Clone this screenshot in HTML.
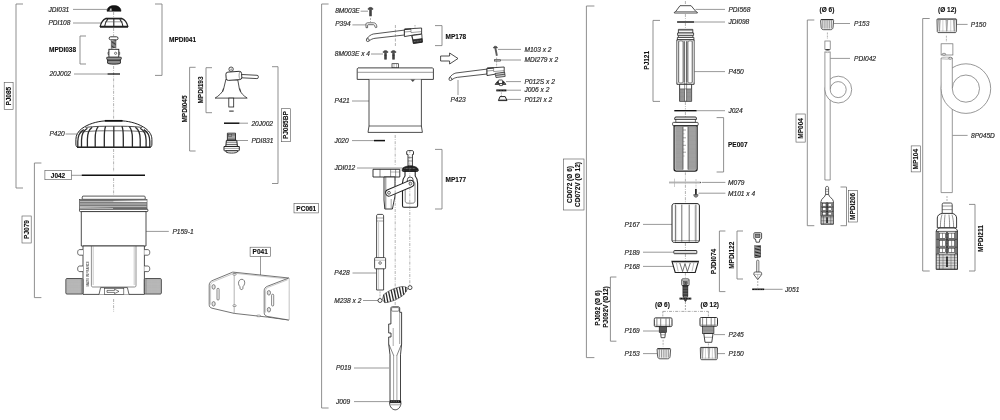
<!DOCTYPE html>
<html><head><meta charset="utf-8"><title>Exploded view</title>
<style>
html,body{margin:0;padding:0;background:#fff;}
body{width:1000px;height:420px;overflow:hidden;}
svg{display:block;font-family:"Liberation Sans",sans-serif;opacity:0.999;will-change:transform;}
</style></head><body>
<svg width="1000" height="420" viewBox="0 0 1000 420">
<rect width="1000" height="420" fill="#fff"/>
<path d="M23,4 H16 V188 H23" stroke="#7c7c7c" stroke-width="0.85" fill="none" />
<path d="M155,4 H162 V75.4 H155" stroke="#7c7c7c" stroke-width="0.85" fill="none" />
<path d="M86,36 H80 V64 H86" stroke="#7c7c7c" stroke-width="0.85" fill="none" />
<path d="M41.4,163 H34.4 V297.6 H41.4" stroke="#7c7c7c" stroke-width="0.85" fill="none" />
<line x1="113.6" y1="12" x2="113.6" y2="17" stroke="#666" stroke-width="0.5" stroke-dasharray="3 1.2 0.8 1.2"/>
<line x1="113.6" y1="28" x2="113.6" y2="36" stroke="#666" stroke-width="0.5" stroke-dasharray="3 1.2 0.8 1.2"/>
<line x1="113.6" y1="66" x2="113.6" y2="119" stroke="#666" stroke-width="0.5" stroke-dasharray="3 1.2 0.8 1.2"/>
<line x1="113.6" y1="149" x2="113.6" y2="172" stroke="#666" stroke-width="0.5" stroke-dasharray="3 1.2 0.8 1.2"/>
<line x1="113.6" y1="178" x2="113.6" y2="195" stroke="#666" stroke-width="0.5" stroke-dasharray="3 1.2 0.8 1.2"/>
<line x1="113.6" y1="299" x2="113.6" y2="312" stroke="#666" stroke-width="0.5" stroke-dasharray="3 1.2 0.8 1.2"/>
<text x="48.4" y="11.74" font-size="6.6" font-style="italic" fill="#2b2b2b" stroke="#2b2b2b" stroke-width="0.18" text-anchor="start">JDI031</text>
<line x1="73" y1="9.4" x2="107" y2="9.4" stroke="#444" stroke-width="0.55" />
<text x="48.4" y="25.34" font-size="6.6" font-style="italic" fill="#2b2b2b" stroke="#2b2b2b" stroke-width="0.18" text-anchor="start">PDI108</text>
<line x1="73" y1="23" x2="101" y2="23" stroke="#444" stroke-width="0.55" />
<text x="49" y="51.74" font-size="6.5" font-weight="bold" fill="#111" stroke="#111" stroke-width="0.12" text-anchor="start">MPDI038</text>
<text x="49.4" y="76.34" font-size="6.6" font-style="italic" fill="#2b2b2b" stroke="#2b2b2b" stroke-width="0.18" text-anchor="start">20J002</text>
<line x1="74" y1="74" x2="107" y2="74" stroke="#444" stroke-width="0.55" />
<text x="169" y="41.74" font-size="6.5" font-weight="bold" fill="#111" stroke="#111" stroke-width="0.12" text-anchor="start">MPDI041</text>
<text x="49.4" y="136.34" font-size="6.6" font-style="italic" fill="#2b2b2b" stroke="#2b2b2b" stroke-width="0.18" text-anchor="start">P420</text>
<line x1="65.6" y1="134" x2="77" y2="134" stroke="#444" stroke-width="0.55" />
<text x="172.4" y="233.74" font-size="6.6" font-style="italic" fill="#2b2b2b" stroke="#2b2b2b" stroke-width="0.18" text-anchor="start">P159-1</text>
<line x1="146.2" y1="231.4" x2="168.8" y2="231.4" stroke="#444" stroke-width="0.55" />
<rect x="44.9" y="170.3" width="26.7" height="9.4" rx="0" stroke="#555" stroke-width="0.6" fill="#fff" />
<text x="58" y="177.74" font-size="6.5" font-weight="bold" fill="#111" stroke="#111" stroke-width="0.12" text-anchor="middle">J042</text>
<line x1="71.6" y1="175.3" x2="82" y2="175.3" stroke="#444" stroke-width="0.55" />
<rect x="4.2" y="82.5" width="8.9" height="26.8" rx="0" stroke="#555" stroke-width="0.6" fill="#fff" />
<text transform="translate(11.14,96.2) rotate(-90)" font-size="6.5" font-weight="bold" fill="#111" stroke="#111" stroke-width="0.12" text-anchor="middle">PJ085</text>
<rect x="22" y="216" width="9.2" height="27" rx="0" stroke="#555" stroke-width="0.6" fill="#fff" />
<text transform="translate(28.94,229.5) rotate(-90)" font-size="6.5" font-weight="bold" fill="#111" stroke="#111" stroke-width="0.12" text-anchor="middle">PJ079</text>
<path d="M107,11.3 C107,7.6 110,5.6 114,5.6 C118,5.6 121,7.6 121,11.3 Z" stroke="#111" stroke-width="0.5" fill="#151515" />
<path d="M109.6,10.4 L111,8.2 L111.6,10.4 Z" stroke="#eee" stroke-width="0.3" fill="#f2f2f2" />
<path d="M106,18.4 H121.6 C125,19.8 127,22.6 127.8,26.4 H100.2 C101,22.6 103,19.8 106,18.4 Z" stroke="#222" stroke-width="1.2" fill="#fff" />
<path d="M100,27 H128" stroke="#222" stroke-width="1.5" fill="none" />
<path d="M105.6,18.7 H122" stroke="#222" stroke-width="1.5" fill="none" />
<path d="M107.8,19.2 C105.8,21.4 105,24 104.6,26.6" stroke="#222" stroke-width="1.1" fill="none" />
<path d="M119.8,19.2 C121.8,21.4 122.6,24 123,26.6" stroke="#222" stroke-width="1.1" fill="none" />
<path d="M113.8,18.6 V26.6" stroke="#222" stroke-width="1.1" fill="none" />
<path d="M104.8,21.8 H122.8" stroke="#555" stroke-width="0.6" fill="none" />
<rect x="109.2" y="36.8" width="8.8" height="3" rx="1.4" stroke="#222" stroke-width="0.9" fill="#fff" />
<path d="M111.3,41.5 L115.9,40.6" stroke="#222" stroke-width="0.9" fill="none" />
<path d="M111.3,42.8 L115.9,41.9" stroke="#222" stroke-width="0.9" fill="none" />
<path d="M111.3,44.1 L115.9,43.2" stroke="#222" stroke-width="0.9" fill="none" />
<path d="M111.3,45.4 L115.9,44.5" stroke="#222" stroke-width="0.9" fill="none" />
<path d="M111.3,46.7 L115.9,45.800000000000004" stroke="#222" stroke-width="0.9" fill="none" />
<path d="M111.3,48.0 L115.9,47.1" stroke="#222" stroke-width="0.9" fill="none" />
<line x1="111.3" y1="40" x2="111.3" y2="48.6" stroke="#333" stroke-width="0.5" />
<line x1="115.9" y1="40" x2="115.9" y2="48.6" stroke="#333" stroke-width="0.5" />
<rect x="108.9" y="49.3" width="9.9" height="7.9" rx="0" stroke="#222" stroke-width="0.9" fill="#fff" />
<circle cx="115.6" cy="53.3" r="1.1" stroke="#222" stroke-width="0.6" fill="#fff"/>
<path d="M108.9,52.2 H108 V54.4 H108.9 M118.8,52.2 H119.7 V54.4 H118.8" stroke="#222" stroke-width="0.6" fill="none" />
<path d="M106.8,57.3 H121.2 V59.2 H106.8 Z" stroke="#222" stroke-width="0.9" fill="#fff" />
<path d="M107.6,59.2 H120.4 V63 C119.6,64.6 108.4,64.6 107.6,63 Z" stroke="#222" stroke-width="0.9" fill="#fff" />
<line x1="107.5" y1="60.5" x2="120.5" y2="60.5" stroke="#222" stroke-width="0.85" />
<line x1="107.5" y1="61.9" x2="120.5" y2="61.9" stroke="#222" stroke-width="0.85" />
<line x1="107.5" y1="63.2" x2="120.5" y2="63.2" stroke="#222" stroke-width="0.85" />
<line x1="107.4" y1="74" x2="120" y2="74" stroke="#111" stroke-width="1.3" />
<path d="M78,147.4 C76.4,147 75.9,146 75.9,144 V139.5 C75.9,135 78,131.6 81.8,128.6 C88,124 97,121.4 105,120.9 H122.6 C130.6,121.4 139.6,124 145.8,128.6 C149.6,131.6 151.9,135 151.9,139.5 V144 C151.9,146 151.4,147 149.8,147.4 Z" stroke="#222" stroke-width="1.0" fill="#fff" />
<path d="M104.8,120.8 H122.6" stroke="#111" stroke-width="1.7" fill="none" />
<path d="M77,147.3 H150.6" stroke="#222" stroke-width="1.4" fill="none" />
<path d="M85.4,127.4 C95,126.2 105,126.2 113.8,126.2 C122.6,126.2 132.6,126.2 142.2,127.4" stroke="#222" stroke-width="0.8" fill="none" />
<path d="M79.6,132.2 C92,130.6 104,130.8 113.8,130.8 C123.6,130.8 135.6,130.6 148,132.2" stroke="#333" stroke-width="0.7" fill="none" />
<path d="M113.8,126.2 C113.8,128.7 113.8,132.7 113.8,138.2 V147" stroke="#2a2a2a" stroke-width="1.3" fill="none" />
<path d="M105.6,126.3 C104.6,128.8 104.3,132.8 104.3,138.3 V147" stroke="#2a2a2a" stroke-width="1.3" fill="none" />
<path d="M122.0,126.3 C123.0,128.8 123.3,132.8 123.3,138.3 V147" stroke="#2a2a2a" stroke-width="1.3" fill="none" />
<path d="M98.2,126.6 C96.0,129.1 95.2,133.1 95.2,138.6 V147" stroke="#2a2a2a" stroke-width="1.3" fill="none" />
<path d="M129.4,126.6 C131.7,129.1 132.4,133.1 132.4,138.6 V147" stroke="#2a2a2a" stroke-width="1.3" fill="none" />
<path d="M92.2,127.2 C88.6,129.7 87.4,133.7 87.4,139.2 V147" stroke="#2a2a2a" stroke-width="1.3" fill="none" />
<path d="M135.4,127.2 C139.0,129.7 140.2,133.7 140.2,139.2 V147" stroke="#2a2a2a" stroke-width="1.3" fill="none" />
<path d="M87.4,128.2 C83.0,130.7 81.5,134.7 81.5,140.2 V147" stroke="#2a2a2a" stroke-width="1.3" fill="none" />
<path d="M140.2,128.2 C144.6,130.7 146.1,134.7 146.1,140.2 V147" stroke="#2a2a2a" stroke-width="1.3" fill="none" />
<path d="M83.8,129.6 C79.3,132.1 77.8,136.1 77.8,141.6 V147" stroke="#2a2a2a" stroke-width="1.3" fill="none" />
<path d="M143.8,129.6 C148.3,132.1 149.8,136.1 149.8,141.6 V147" stroke="#2a2a2a" stroke-width="1.3" fill="none" />
<line x1="81.8" y1="175.3" x2="145" y2="175.3" stroke="#111" stroke-width="1.6" />
<path d="M82.8,196.1 H144.6 L145.2,197 V199.3 H82.2 V197 Z" stroke="#222" stroke-width="0.75" fill="#fff" />
<rect x="79.6" y="199.3" width="67.4" height="9.9" rx="0" stroke="#333" stroke-width="0.6" fill="#d4d4d4" />
<line x1="79.8" y1="200.6" x2="146.8" y2="200.6" stroke="#444" stroke-width="0.75" />
<line x1="79.8" y1="202.3" x2="146.8" y2="202.3" stroke="#444" stroke-width="0.75" />
<line x1="79.8" y1="204" x2="146.8" y2="204" stroke="#444" stroke-width="0.75" />
<line x1="79.8" y1="205.7" x2="146.8" y2="205.7" stroke="#444" stroke-width="0.75" />
<line x1="79.8" y1="207.4" x2="146.8" y2="207.4" stroke="#444" stroke-width="0.75" />
<line x1="79.8" y1="208.8" x2="146.8" y2="208.8" stroke="#444" stroke-width="0.75" />
<path d="M113.4,200.9 L146.6,200.4 V202 L113.4,201.6 Z" stroke="#fff" stroke-width="0.1" fill="#fff" />
<path d="M80,207.6 L113,208.1 V208.7 L80,208.5 Z" stroke="#fff" stroke-width="0.1" fill="#fff" />
<rect x="79.5" y="209.2" width="68.4" height="2.4" rx="0.8" stroke="#222" stroke-width="0.8" fill="#fff" />
<path d="M81.3,211.6 H146 V246 H81.3 Z" stroke="#222" stroke-width="0.8" fill="#fff" />
<path d="M83,246 H144.4 V294.4 H83 Z" stroke="#222" stroke-width="0.8" fill="#fff" />
<path d="M91.4,246 V285.5 C91.4,286.6 92,287 93,287 H134.4 C135.4,287 136,286.6 136,285.5 V246" stroke="#444" stroke-width="0.6" fill="none" />
<path d="M93.2,246 V285" stroke="#777" stroke-width="0.4" fill="none" />
<path d="M134.2,246 V285" stroke="#777" stroke-width="0.4" fill="none" />
<path d="M83,249.6 H79.6 C77,249.6 77,255.2 79.6,255.2 H83" stroke="#222" stroke-width="0.7" fill="#fff" />
<path d="M144.4,249.6 H147.8 C150.4,249.6 150.4,255.2 147.8,255.2 H144.4" stroke="#222" stroke-width="0.7" fill="#fff" />
<path d="M83,266 H79.6 C77,266 77,271.6 79.6,271.6 H83" stroke="#222" stroke-width="0.7" fill="#fff" />
<path d="M144.4,266 H147.8 C150.4,266 150.4,271.6 147.8,271.6 H144.4" stroke="#222" stroke-width="0.7" fill="#fff" />
<defs><pattern id="hat" width="1.1" height="1.1" patternUnits="userSpaceOnUse"><rect width="1.1" height="1.1" fill="#9a9a9a"/><path d="M0,0.55H1.1" stroke="#666" stroke-width="0.5"/></pattern><pattern id="hat2" width="1" height="1.2" patternUnits="userSpaceOnUse"><rect width="1" height="1.2" fill="#bbb"/><path d="M0,0.6H1" stroke="#666" stroke-width="0.5"/></pattern></defs>
<rect x="65.9" y="278.6" width="17" height="15.4" rx="1" stroke="#333" stroke-width="0.9" fill="#cacaca" />
<rect x="144.3" y="278.6" width="17" height="15.4" rx="1" stroke="#333" stroke-width="0.9" fill="#cacaca" />
<line x1="67.44000000000001" y1="279.2" x2="67.44000000000001" y2="293.4" stroke="#9a9a9a" stroke-width="0.3" />
<line x1="145.64" y1="279.2" x2="145.64" y2="293.4" stroke="#9a9a9a" stroke-width="0.3" />
<line x1="68.48" y1="279.2" x2="68.48" y2="293.4" stroke="#9a9a9a" stroke-width="0.3" />
<line x1="146.68" y1="279.2" x2="146.68" y2="293.4" stroke="#9a9a9a" stroke-width="0.3" />
<line x1="69.52000000000001" y1="279.2" x2="69.52000000000001" y2="293.4" stroke="#9a9a9a" stroke-width="0.3" />
<line x1="147.72" y1="279.2" x2="147.72" y2="293.4" stroke="#9a9a9a" stroke-width="0.3" />
<line x1="70.56" y1="279.2" x2="70.56" y2="293.4" stroke="#9a9a9a" stroke-width="0.3" />
<line x1="148.76" y1="279.2" x2="148.76" y2="293.4" stroke="#9a9a9a" stroke-width="0.3" />
<line x1="71.60000000000001" y1="279.2" x2="71.60000000000001" y2="293.4" stroke="#9a9a9a" stroke-width="0.3" />
<line x1="149.79999999999998" y1="279.2" x2="149.79999999999998" y2="293.4" stroke="#9a9a9a" stroke-width="0.3" />
<line x1="72.64" y1="279.2" x2="72.64" y2="293.4" stroke="#9a9a9a" stroke-width="0.3" />
<line x1="150.84" y1="279.2" x2="150.84" y2="293.4" stroke="#9a9a9a" stroke-width="0.3" />
<line x1="73.68" y1="279.2" x2="73.68" y2="293.4" stroke="#9a9a9a" stroke-width="0.3" />
<line x1="151.88" y1="279.2" x2="151.88" y2="293.4" stroke="#9a9a9a" stroke-width="0.3" />
<line x1="74.72" y1="279.2" x2="74.72" y2="293.4" stroke="#9a9a9a" stroke-width="0.3" />
<line x1="152.92" y1="279.2" x2="152.92" y2="293.4" stroke="#9a9a9a" stroke-width="0.3" />
<line x1="75.76" y1="279.2" x2="75.76" y2="293.4" stroke="#9a9a9a" stroke-width="0.3" />
<line x1="153.95999999999998" y1="279.2" x2="153.95999999999998" y2="293.4" stroke="#9a9a9a" stroke-width="0.3" />
<line x1="76.80000000000001" y1="279.2" x2="76.80000000000001" y2="293.4" stroke="#9a9a9a" stroke-width="0.3" />
<line x1="155.0" y1="279.2" x2="155.0" y2="293.4" stroke="#9a9a9a" stroke-width="0.3" />
<line x1="77.84" y1="279.2" x2="77.84" y2="293.4" stroke="#9a9a9a" stroke-width="0.3" />
<line x1="156.04" y1="279.2" x2="156.04" y2="293.4" stroke="#9a9a9a" stroke-width="0.3" />
<line x1="78.88000000000001" y1="279.2" x2="78.88000000000001" y2="293.4" stroke="#9a9a9a" stroke-width="0.3" />
<line x1="157.07999999999998" y1="279.2" x2="157.07999999999998" y2="293.4" stroke="#9a9a9a" stroke-width="0.3" />
<line x1="79.92" y1="279.2" x2="79.92" y2="293.4" stroke="#9a9a9a" stroke-width="0.3" />
<line x1="158.12" y1="279.2" x2="158.12" y2="293.4" stroke="#9a9a9a" stroke-width="0.3" />
<line x1="80.96000000000001" y1="279.2" x2="80.96000000000001" y2="293.4" stroke="#9a9a9a" stroke-width="0.3" />
<line x1="159.16" y1="279.2" x2="159.16" y2="293.4" stroke="#9a9a9a" stroke-width="0.3" />
<line x1="82.0" y1="279.2" x2="82.0" y2="293.4" stroke="#9a9a9a" stroke-width="0.3" />
<line x1="160.2" y1="279.2" x2="160.2" y2="293.4" stroke="#9a9a9a" stroke-width="0.3" />
<path d="M99,294.4 L100.6,287.6 H127.4 L129,294.4" stroke="#222" stroke-width="0.7" fill="#fff" />
<rect x="104.4" y="288.4" width="19.4" height="6" rx="0" stroke="#333" stroke-width="0.6" fill="#fff" />
<path d="M107,290.4 H114.5 V289.2 L119,291.4 L114.5,293.6 V292.4 H107 Z" stroke="#222" stroke-width="0.6" fill="#fff" />
<text transform="translate(89,286.4) rotate(-90)" font-size="2.9" font-weight="bold" fill="#555">MADE IN FRANCE</text>
<line x1="81.4" y1="279" x2="81.4" y2="293.6" stroke="#555" stroke-width="0.5" />
<line x1="146" y1="279" x2="146" y2="293.6" stroke="#555" stroke-width="0.5" />
<line x1="66.4" y1="280.05" x2="82.6" y2="280.05" stroke="#a5a5a5" stroke-width="0.3" />
<line x1="144.6" y1="280.05" x2="160.8" y2="280.05" stroke="#a5a5a5" stroke-width="0.3" />
<line x1="66.4" y1="281.3" x2="82.6" y2="281.3" stroke="#a5a5a5" stroke-width="0.3" />
<line x1="144.6" y1="281.3" x2="160.8" y2="281.3" stroke="#a5a5a5" stroke-width="0.3" />
<line x1="66.4" y1="282.55" x2="82.6" y2="282.55" stroke="#a5a5a5" stroke-width="0.3" />
<line x1="144.6" y1="282.55" x2="160.8" y2="282.55" stroke="#a5a5a5" stroke-width="0.3" />
<line x1="66.4" y1="283.8" x2="82.6" y2="283.8" stroke="#a5a5a5" stroke-width="0.3" />
<line x1="144.6" y1="283.8" x2="160.8" y2="283.8" stroke="#a5a5a5" stroke-width="0.3" />
<line x1="66.4" y1="285.05" x2="82.6" y2="285.05" stroke="#a5a5a5" stroke-width="0.3" />
<line x1="144.6" y1="285.05" x2="160.8" y2="285.05" stroke="#a5a5a5" stroke-width="0.3" />
<line x1="66.4" y1="286.3" x2="82.6" y2="286.3" stroke="#a5a5a5" stroke-width="0.3" />
<line x1="144.6" y1="286.3" x2="160.8" y2="286.3" stroke="#a5a5a5" stroke-width="0.3" />
<line x1="66.4" y1="287.55" x2="82.6" y2="287.55" stroke="#a5a5a5" stroke-width="0.3" />
<line x1="144.6" y1="287.55" x2="160.8" y2="287.55" stroke="#a5a5a5" stroke-width="0.3" />
<line x1="66.4" y1="288.8" x2="82.6" y2="288.8" stroke="#a5a5a5" stroke-width="0.3" />
<line x1="144.6" y1="288.8" x2="160.8" y2="288.8" stroke="#a5a5a5" stroke-width="0.3" />
<line x1="66.4" y1="290.05" x2="82.6" y2="290.05" stroke="#a5a5a5" stroke-width="0.3" />
<line x1="144.6" y1="290.05" x2="160.8" y2="290.05" stroke="#a5a5a5" stroke-width="0.3" />
<line x1="66.4" y1="291.3" x2="82.6" y2="291.3" stroke="#a5a5a5" stroke-width="0.3" />
<line x1="144.6" y1="291.3" x2="160.8" y2="291.3" stroke="#a5a5a5" stroke-width="0.3" />
<line x1="66.4" y1="292.55" x2="82.6" y2="292.55" stroke="#a5a5a5" stroke-width="0.3" />
<line x1="144.6" y1="292.55" x2="160.8" y2="292.55" stroke="#a5a5a5" stroke-width="0.3" />
<path d="M195.6,67.3 H189.6 V151 H195.6" stroke="#7c7c7c" stroke-width="0.85" fill="none" />
<path d="M212,67.7 H206 V112.7 H212" stroke="#7c7c7c" stroke-width="0.85" fill="none" />
<path d="M272,66.7 H278 V183.5 H272" stroke="#7c7c7c" stroke-width="0.85" fill="none" />
<text transform="translate(186.54,109) rotate(-90)" font-size="6.5" font-weight="bold" fill="#111" stroke="#111" stroke-width="0.12" text-anchor="middle">MPDI045</text>
<text transform="translate(203.04,90) rotate(-90)" font-size="6.5" font-weight="bold" fill="#111" stroke="#111" stroke-width="0.12" text-anchor="middle">MPDI193</text>
<rect x="281.3" y="108.7" width="9.4" height="33" rx="0" stroke="#555" stroke-width="0.6" fill="#fff" />
<text transform="translate(288.34,125.2) rotate(-90)" font-size="6.5" font-weight="bold" fill="#111" stroke="#111" stroke-width="0.12" text-anchor="middle">PJ085BP</text>
<circle cx="231.1" cy="69.2" r="2.2" stroke="#222" stroke-width="0.8" fill="#fff"/>
<circle cx="231.3" cy="69.4" r="0.6" stroke="#222" stroke-width="0.4" fill="#fff"/>
<path d="M226,79 L223.6,89 C222.6,92.6 218.5,96 215.1,98.1 H247.2 C243.8,96 240.2,92.6 239.4,89 L237.8,80 Z" stroke="#222" stroke-width="0.8" fill="#fff" />
<path d="M223.4,88.4 L222.6,92 M239.8,88.4 L240.8,92" stroke="#222" stroke-width="0.7" fill="none" />
<g transform="rotate(3 242 76)"><rect x="240.6" y="74.5" width="17.8" height="3.3" rx="1.4" stroke="#222" stroke-width="0.8" fill="#fff"/></g>
<g transform="rotate(-4 234 75.8)"><rect x="226" y="71.7" width="15.7" height="8.3" rx="2.2" stroke="#222" stroke-width="0.9" fill="#fff"/></g>
<path d="M239.8,72 C238.8,73.6 238.8,77.8 240,79.2" stroke="#333" stroke-width="0.5" fill="none" />
<rect x="228.8" y="98.1" width="4.9" height="8.9" rx="0" stroke="#222" stroke-width="0.8" fill="#fff" />
<line x1="229.2" y1="111.1" x2="233.7" y2="111.1" stroke="#222" stroke-width="1.0" />
<line x1="224" y1="123.2" x2="239.5" y2="123.2" stroke="#111" stroke-width="1.5" />
<line x1="239.7" y1="123.2" x2="248" y2="123.2" stroke="#444" stroke-width="0.55" />
<text x="251.4" y="125.54" font-size="6.6" font-style="italic" fill="#2b2b2b" stroke="#2b2b2b" stroke-width="0.18" text-anchor="start">20J002</text>
<path d="M227.4,133.2 H235.5 V140.4 H227.4 Z" stroke="#222" stroke-width="0.9" fill="#fff" />
<line x1="227.4" y1="134.4" x2="235.5" y2="134.4" stroke="#333" stroke-width="0.7" />
<line x1="227.4" y1="135.7" x2="235.5" y2="135.7" stroke="#333" stroke-width="0.7" />
<line x1="227.4" y1="137" x2="235.5" y2="137" stroke="#333" stroke-width="0.7" />
<line x1="227.4" y1="138.3" x2="235.5" y2="138.3" stroke="#333" stroke-width="0.7" />
<line x1="227.4" y1="139.5" x2="235.5" y2="139.5" stroke="#333" stroke-width="0.7" />
<rect x="228.2" y="134.2" width="3.6" height="2.4" rx="0" stroke="#333" stroke-width="0.4" fill="#999" />
<path d="M226.4,140.4 H236.8 L237.4,146.4 H225.8 Z" stroke="#222" stroke-width="1.0" fill="#fff" />
<line x1="226.2" y1="142.2" x2="237" y2="142.2" stroke="#333" stroke-width="0.7" />
<line x1="226" y1="144.4" x2="237.2" y2="144.4" stroke="#333" stroke-width="0.8" />
<path d="M224,146.5 H239.3 V150.2 C239.3,150.6 239,150.8 238.6,150.8 H224.7 C224.3,150.8 224,150.6 224,150.2 Z" stroke="#222" stroke-width="1.0" fill="#fff" />
<line x1="224.4" y1="148.4" x2="239" y2="148.4" stroke="#444" stroke-width="0.5" />
<path d="M226,150.8 H237.4 V152 C235.6,153.4 227.8,153.4 226,152 Z" stroke="#222" stroke-width="0.9" fill="#fff" />
<line x1="236.4" y1="140.5" x2="248" y2="140.5" stroke="#444" stroke-width="0.55" />
<text x="251.4" y="142.84" font-size="6.6" font-style="italic" fill="#2b2b2b" stroke="#2b2b2b" stroke-width="0.18" text-anchor="start">PDI831</text>
<rect x="250.1" y="247.2" width="20.5" height="9.1" rx="0" stroke="#555" stroke-width="0.6" fill="#fff" />
<text x="260.2" y="254.04" font-size="6.5" font-weight="bold" fill="#111" stroke="#111" stroke-width="0.12" text-anchor="middle">P041</text>
<line x1="260.5" y1="256.3" x2="260.5" y2="275" stroke="#444" stroke-width="0.55" />
<path d="M232.8,272.1 L288.8,278 V320 L267.4,317.1 L234.2,313.4" stroke="#3a3a3a" stroke-width="0.7" fill="#fff" />
<path d="M232.8,272.1 L213.2,280.2 C210.4,281.4 209.2,282.8 209.2,285.2 V304.4 C209.2,306.6 210,307.6 212,308.2 L234.2,313.4" stroke="#3a3a3a" stroke-width="0.7" fill="#fff" />
<path d="M233.6,273.4 L214,281.4 C211.6,282.4 210.6,283.6 210.6,285.6 V304.8" stroke="#777" stroke-width="0.4" fill="none" />
<line x1="234.2" y1="272.6" x2="234.2" y2="313.4" stroke="#666" stroke-width="0.5" />
<path d="M288.8,278 L267.6,286.2 C265.2,287.2 264.2,288.6 264.2,290.8 V312.4 C264.2,314.6 265,315.6 267,316.4 L288.8,320" stroke="#3a3a3a" stroke-width="0.7" fill="#fff" />
<path d="M287.6,279.8 L268.4,287.2 C266.4,288.2 265.6,289.2 265.6,291.2 V312.6" stroke="#777" stroke-width="0.4" fill="none" />
<path d="M234,273.2 L287.4,278.9" stroke="#777" stroke-width="0.4" fill="none" />
<path d="M239.9,286.6 C238.2,285 238,281.8 239.6,280.2 C241,278.8 243.2,279 244.2,280.6 C245.4,282.6 244.4,285.2 243,286.6 L242.8,288.8 C242.6,289.8 240.4,289.8 240.2,288.8 Z" stroke="#3a3a3a" stroke-width="0.65" fill="#fff" />
<rect x="232.9" y="273.5" width="3.3" height="1.6" rx="0.7" stroke="#3a3a3a" stroke-width="0.45" fill="#fff" />
<rect x="232.9" y="304.9" width="3.3" height="1.6" rx="0.7" stroke="#3a3a3a" stroke-width="0.45" fill="#fff" />
<rect x="257" y="315.1" width="3.4" height="1.6" rx="0.7" stroke="#3a3a3a" stroke-width="0.45" fill="#fff" />
<ellipse cx="213.6" cy="286.9" rx="1.6" ry="2.3" stroke="#3a3a3a" stroke-width="0.6" fill="#fff"/>
<ellipse cx="213.9" cy="287.09999999999997" rx="1.0" ry="1.6" stroke="#888" stroke-width="0.35" fill="none"/>
<ellipse cx="213.6" cy="303.8" rx="1.6" ry="2.3" stroke="#3a3a3a" stroke-width="0.6" fill="#fff"/>
<ellipse cx="213.9" cy="304.0" rx="1.0" ry="1.6" stroke="#888" stroke-width="0.35" fill="none"/>
<ellipse cx="268.9" cy="292.8" rx="1.6" ry="2.3" stroke="#3a3a3a" stroke-width="0.6" fill="#fff"/>
<ellipse cx="269.2" cy="293.0" rx="1.0" ry="1.6" stroke="#888" stroke-width="0.35" fill="none"/>
<ellipse cx="268.9" cy="309.7" rx="1.6" ry="2.3" stroke="#3a3a3a" stroke-width="0.6" fill="#fff"/>
<ellipse cx="269.2" cy="309.9" rx="1.0" ry="1.6" stroke="#888" stroke-width="0.35" fill="none"/>
<rect x="217" y="288.3" width="2.1" height="11.8" rx="1" stroke="#3a3a3a" stroke-width="0.6" fill="#fff" />
<rect x="271.6" y="294.2" width="2.1" height="11.8" rx="1" stroke="#3a3a3a" stroke-width="0.6" fill="#fff" />
<path d="M328.6,4 H321.6 V408 H328.6" stroke="#7c7c7c" stroke-width="0.85" fill="none" />
<rect x="294" y="203.4" width="24.3" height="9.5" rx="0" stroke="#555" stroke-width="0.6" fill="#fff" />
<text x="306.3" y="210.84" font-size="6.5" font-weight="bold" fill="#111" stroke="#111" stroke-width="0.12" text-anchor="middle">PC061</text>
<text x="335.2" y="13.14" font-size="6.6" font-style="italic" fill="#2b2b2b" stroke="#2b2b2b" stroke-width="0.18" text-anchor="start">8M003E</text>
<line x1="360.6" y1="11.2" x2="368" y2="11.2" stroke="#444" stroke-width="0.55" />
<text x="335.2" y="26.44" font-size="6.6" font-style="italic" fill="#2b2b2b" stroke="#2b2b2b" stroke-width="0.18" text-anchor="start">P394</text>
<line x1="352.4" y1="24.9" x2="366" y2="24.9" stroke="#444" stroke-width="0.55" />
<text x="334.79999999999995" y="56.34" font-size="6.6" font-style="italic" fill="#2b2b2b" stroke="#2b2b2b" stroke-width="0.18" text-anchor="start">8M003E x 4</text>
<line x1="371" y1="54" x2="383" y2="54" stroke="#444" stroke-width="0.55" />
<text x="334.4" y="103.34" font-size="6.6" font-style="italic" fill="#2b2b2b" stroke="#2b2b2b" stroke-width="0.18" text-anchor="start">P421</text>
<line x1="352" y1="101" x2="369" y2="101" stroke="#444" stroke-width="0.55" />
<text x="334.4" y="142.94" font-size="6.6" font-style="italic" fill="#2b2b2b" stroke="#2b2b2b" stroke-width="0.18" text-anchor="start">J020</text>
<line x1="352" y1="140.6" x2="374" y2="140.6" stroke="#444" stroke-width="0.55" />
<text x="334.4" y="170.34" font-size="6.6" font-style="italic" fill="#2b2b2b" stroke="#2b2b2b" stroke-width="0.18" text-anchor="start">JDI012</text>
<line x1="357" y1="168" x2="404" y2="168" stroke="#444" stroke-width="0.55" />
<text x="334.2" y="275.34" font-size="6.6" font-style="italic" fill="#2b2b2b" stroke="#2b2b2b" stroke-width="0.18" text-anchor="start">P428</text>
<line x1="352.5" y1="273" x2="376.3" y2="273" stroke="#444" stroke-width="0.55" />
<text x="334.2" y="302.84" font-size="6.6" font-style="italic" fill="#2b2b2b" stroke="#2b2b2b" stroke-width="0.18" text-anchor="start">M238 x 2</text>
<line x1="363" y1="300.5" x2="378" y2="300.5" stroke="#444" stroke-width="0.55" />
<text x="335.9" y="370.34" font-size="6.6" font-style="italic" fill="#2b2b2b" stroke="#2b2b2b" stroke-width="0.18" text-anchor="start">P019</text>
<line x1="354" y1="368" x2="389" y2="368" stroke="#444" stroke-width="0.55" />
<text x="335.9" y="403.94" font-size="6.6" font-style="italic" fill="#2b2b2b" stroke="#2b2b2b" stroke-width="0.18" text-anchor="start">J009</text>
<line x1="354" y1="401.6" x2="389.5" y2="401.6" stroke="#444" stroke-width="0.55" />
<path d="M435,25.6 H442 V45.6 H435" stroke="#7c7c7c" stroke-width="0.85" fill="none" />
<text x="445.6" y="38.74" font-size="6.5" font-weight="bold" fill="#111" stroke="#111" stroke-width="0.12" text-anchor="start">MP178</text>
<path d="M435,149.4 H442 V209 H435" stroke="#7c7c7c" stroke-width="0.85" fill="none" />
<text x="445.6" y="181.74" font-size="6.5" font-weight="bold" fill="#111" stroke="#111" stroke-width="0.12" text-anchor="start">MP177</text>
<text x="524.4" y="51.74" font-size="6.6" font-style="italic" fill="#2b2b2b" stroke="#2b2b2b" stroke-width="0.18" text-anchor="start">M103 x 2</text>
<line x1="498" y1="49.4" x2="521" y2="49.4" stroke="#444" stroke-width="0.55" />
<text x="524.4" y="62.34" font-size="6.6" font-style="italic" fill="#2b2b2b" stroke="#2b2b2b" stroke-width="0.18" text-anchor="start">MDI279 x 2</text>
<line x1="500" y1="60" x2="521" y2="60" stroke="#444" stroke-width="0.55" />
<text x="524.4" y="83.94" font-size="6.6" font-style="italic" fill="#2b2b2b" stroke="#2b2b2b" stroke-width="0.18" text-anchor="start">P012S x 2</text>
<line x1="506" y1="81.6" x2="521" y2="81.6" stroke="#444" stroke-width="0.55" />
<text x="524.4" y="92.34" font-size="6.6" font-style="italic" fill="#2b2b2b" stroke="#2b2b2b" stroke-width="0.18" text-anchor="start">J006 x 2</text>
<line x1="506.4" y1="90.2" x2="521" y2="90.2" stroke="#444" stroke-width="0.55" />
<text x="524.4" y="101.74" font-size="6.6" font-style="italic" fill="#2b2b2b" stroke="#2b2b2b" stroke-width="0.18" text-anchor="start">P012I x 2</text>
<line x1="506.4" y1="99.4" x2="521" y2="99.4" stroke="#444" stroke-width="0.55" />
<text x="450.4" y="101.74" font-size="6.6" font-style="italic" fill="#2b2b2b" stroke="#2b2b2b" stroke-width="0.18" text-anchor="start">P423</text>
<line x1="458" y1="80" x2="458" y2="95" stroke="#444" stroke-width="0.55" />
<path d="M368.0,9.399999999999999 C368.0,6.699999999999999 373.0,6.699999999999999 373.0,9.399999999999999 Z" stroke="#333" stroke-width="0.5" fill="#4a4a4a" />
<line x1="370.5" y1="9.399999999999999" x2="370.5" y2="16.3" stroke="#555" stroke-width="2.4" />
<line x1="370.5" y1="9.7" x2="370.5" y2="16.3" stroke="#2e2e2e" stroke-width="2.4" stroke-dasharray="0.55 0.6"/>
<line x1="370.5" y1="18" x2="370.5" y2="22" stroke="#666" stroke-width="0.5" stroke-dasharray="2 1"/>
<path d="M366,27.7 V24.2 C366,23.2 366.6,22.8 367.6,22.8 H373.4 C375.2,22.8 376.2,23.8 376.6,25.4 L376.9,27.2 C376.3,27.8 375.5,27.8 375.1,27.2 L374.7,25.6 C374.5,25 374.1,24.7 373.5,24.7 H368.2 C367.8,24.7 367.6,24.9 367.6,25.3 V27.7 Z" stroke="#2a2a2a" stroke-width="0.7" fill="#fff" />
<path d="M366.59999999999997,38.9 C368.9,36 370.9,34.6 373.29999999999995,34 L404.4,30.1 V35 L375.0,38.3 C372.4,38.7 371.0,39.4 369.2,40.9" stroke="#2a2a2a" stroke-width="0.8" fill="#fff" />
<circle cx="367.79999999999995" cy="40.1" r="1.45" stroke="#2a2a2a" stroke-width="0.75" fill="#fff"/>
<path d="M404.4,29.1 L421.59999999999997,28 V34 L415.29999999999995,34.7 L404.4,36.6 Z" stroke="#222" stroke-width="0.85" fill="#fff" />
<path d="M411.0,28.7 V32.6 L421.4,31.6" stroke="#444" stroke-width="0.5" fill="none" />
<path d="M404.4,32 L411.0,31.4" stroke="#444" stroke-width="0.5" fill="none" />
<path d="M404.79999999999995,29.4 L411.0,29" stroke="#222" stroke-width="1.1" fill="none" />
<path d="M411.8,35.6 L421.8,34.2 L422.3,42.2 L413.4,43.4 Z" stroke="#222" stroke-width="0.8" fill="#fff" />
<path d="M413,39.8 L422.1,38.6 L422.3,42.2 L413.4,43.4 Z" stroke="#111" stroke-width="0.6" fill="#333" />
<line x1="414" y1="41.6" x2="421.6" y2="40.6" stroke="#bbb" stroke-width="0.5" stroke-dasharray="0.8 0.7"/>
<path d="M411.8,35.6 L413,39.8" stroke="#222" stroke-width="0.8" fill="none" />
<line x1="395.4" y1="25" x2="395.4" y2="46" stroke="#666" stroke-width="0.5" stroke-dasharray="3 1.5"/>
<line x1="415" y1="25" x2="415" y2="29" stroke="#666" stroke-width="0.5" stroke-dasharray="1.5 1"/>
<path d="M383.0,52.5 C383.0,49.800000000000004 388.0,49.800000000000004 388.0,52.5 Z" stroke="#333" stroke-width="0.5" fill="#4a4a4a" />
<line x1="385.5" y1="52.5" x2="385.5" y2="59.7" stroke="#555" stroke-width="2.4" />
<line x1="385.5" y1="52.800000000000004" x2="385.5" y2="59.7" stroke="#2e2e2e" stroke-width="2.4" stroke-dasharray="0.55 0.6"/>
<path d="M391.0,52.5 C391.0,49.800000000000004 396.0,49.800000000000004 396.0,52.5 Z" stroke="#333" stroke-width="0.5" fill="#4a4a4a" />
<line x1="393.5" y1="52.5" x2="393.5" y2="59.7" stroke="#555" stroke-width="2.4" />
<line x1="393.5" y1="52.800000000000004" x2="393.5" y2="59.7" stroke="#2e2e2e" stroke-width="2.4" stroke-dasharray="0.55 0.6"/>
<path d="M440.6,56 H449.6 V53 L458,58.5 L449.6,64 V61 H440.6 Z" stroke="#222" stroke-width="0.8" fill="#fff" />
<path d="M493.4,48 C493.4,45.6 497.4,45.6 497.4,48 Z" stroke="#333" stroke-width="0.5" fill="#555" />
<path d="M495.3,47.8 L496.9,55.8" stroke="#666" stroke-width="1.9" fill="none" />
<path d="M495.3,47.8 L496.8,55.6" stroke="#333" stroke-width="0.5" fill="none" stroke-dasharray="0.6 0.6"/>
<rect x="494.3" y="59.7" width="6.3" height="1.4" rx="0" stroke="#333" stroke-width="0.6" fill="#bbb" />
<line x1="496.6" y1="57.6" x2="496.6" y2="67" stroke="#666" stroke-width="0.5" stroke-dasharray="2 1"/>
<path d="M449.2,77.9 C451.5,75 453.5,73.6 455.9,73 L487,69.1 V74 L457.6,77.3 C455,77.7 453.6,78.4 451.8,79.9" stroke="#2a2a2a" stroke-width="0.8" fill="#fff" />
<circle cx="450.4" cy="79.1" r="1.45" stroke="#2a2a2a" stroke-width="0.75" fill="#fff"/>
<path d="M487,68.1 L504.2,67 V73 L497.9,73.7 L487,75.6 Z" stroke="#222" stroke-width="0.85" fill="#fff" />
<path d="M493.6,67.7 V71.6 L504,70.6" stroke="#444" stroke-width="0.5" fill="none" />
<path d="M487,71 L493.6,70.4" stroke="#444" stroke-width="0.5" fill="none" />
<path d="M487.4,68.4 L493.6,68" stroke="#222" stroke-width="1.1" fill="none" />
<path d="M495,73.4 L504.6,72.2 L505.2,76.4 L496,77.6 Z" stroke="#222" stroke-width="0.7" fill="#ccc" />
<line x1="496" y1="75.4" x2="505" y2="74.2" stroke="#222" stroke-width="0.7" />
<path d="M495,84.4 L497.4,81.4 H503.8 L506,84.4 Z" stroke="#111" stroke-width="0.6" fill="#222" />
<rect x="498.4" y="80" width="4.2" height="3.6" rx="0.6" stroke="#111" stroke-width="0.7" fill="#fff" />
<rect x="499.4" y="83.6" width="3.2" height="2" rx="0.4" stroke="#111" stroke-width="0.7" fill="#fff" />
<line x1="496.2" y1="83.4" x2="497.8" y2="83.4" stroke="#ccc" stroke-width="0.4" />
<line x1="503.4" y1="83.4" x2="505" y2="83.4" stroke="#ccc" stroke-width="0.4" />
<line x1="496.3" y1="90.4" x2="506.4" y2="90.4" stroke="#111" stroke-width="1.9" />
<line x1="497" y1="90.4" x2="506" y2="90.4" stroke="#999" stroke-width="0.6" stroke-dasharray="0.6 0.9"/>
<path d="M500,96.6 H505.2 L507,100.6 H498.4 Z" stroke="#222" stroke-width="1.0" fill="#fff" />
<line x1="499" y1="99.4" x2="506.4" y2="99.4" stroke="#444" stroke-width="0.5" />
<line x1="501.4" y1="92.4" x2="501.4" y2="96" stroke="#666" stroke-width="0.5" stroke-dasharray="1.5 0.8"/>
<rect x="392" y="63.7" width="6.6" height="4.2" rx="0" stroke="#222" stroke-width="0.7" fill="#fff" />
<line x1="394" y1="63.7" x2="394" y2="68" stroke="#444" stroke-width="0.4" />
<line x1="396.6" y1="63.7" x2="396.6" y2="68" stroke="#444" stroke-width="0.4" />
<path d="M358,67.9 H432.6 L433.4,68.8 V79.4 H357.2 V68.8 Z" stroke="#222" stroke-width="0.85" fill="#fff" />
<line x1="357.6" y1="72.3" x2="433" y2="72.3" stroke="#444" stroke-width="0.55" />
<path d="M369,79.4 V126 L368,132.4 H422.4 L421.4,126 V79.4" stroke="#222" stroke-width="0.8" fill="#fff" />
<line x1="369" y1="126" x2="421.4" y2="126" stroke="#222" stroke-width="0.7" />
<path d="M411,79.6 L412.8,81.6 L414.6,79.6" stroke="#222" stroke-width="0.6" fill="#444" />
<line x1="374" y1="140.6" x2="385" y2="140.6" stroke="#111" stroke-width="1.5" />
<line x1="395.2" y1="135" x2="395.2" y2="166" stroke="#666" stroke-width="0.5" stroke-dasharray="3 1.2 0.8 1.2"/>
<path d="M408,166 V154.4 H406.7 V152 C406.7,151 407.4,150.6 408.4,150.6 H411.8 C412.8,150.6 413.5,151 413.5,152 V154.4 H412.4 V166 Z" stroke="#222" stroke-width="0.9" fill="#fff" />
<line x1="408" y1="157.6" x2="412.4" y2="157.6" stroke="#333" stroke-width="0.5" />
<line x1="408" y1="161" x2="412.4" y2="161" stroke="#333" stroke-width="0.5" />
<path d="M373,169.3 H399.8 V177 H373 Z" stroke="#222" stroke-width="0.9" fill="#fff" />
<line x1="380" y1="169.3" x2="380" y2="177" stroke="#333" stroke-width="0.6" />
<line x1="390.6" y1="169.3" x2="390.6" y2="177" stroke="#333" stroke-width="0.5" />
<line x1="395.6" y1="169.3" x2="395.6" y2="177" stroke="#333" stroke-width="0.5" />
<line x1="390.6" y1="172" x2="399.8" y2="172" stroke="#444" stroke-width="0.4" />
<path d="M384,177 H395 V196 L392.4,209 H384.8 L384,200 Z" stroke="#222" stroke-width="0.9" fill="#fff" />
<line x1="385.8" y1="177" x2="385.8" y2="208.6" stroke="#333" stroke-width="0.6" />
<line x1="391.2" y1="199" x2="391.2" y2="208.6" stroke="#444" stroke-width="0.5" />
<path d="M405,171 H415.2 V176 C417,178 417.6,180 417.6,183 V205.8 C417.6,206.8 417,207.3 416,207.3 H404 C403,207.3 402.5,206.8 402.5,205.8 V183 C402.5,180 403.2,178 405,176 Z" stroke="#222" stroke-width="1.1" fill="#fff" />
<path d="M405.2,184 C405.2,182 406.2,181 407.8,181 H412.4 C414,181 415,182 415,184 V200.6 C415,202.4 414,203.2 412.4,203.2 H407.8 C406.2,203.2 405.2,202.4 405.2,200.6 Z" stroke="#333" stroke-width="0.6" fill="#fff" />
<path d="M402,170.8 C402,167.6 404.8,166 410.2,166 C415.6,166 418.4,167.6 418.4,170.8 Z" stroke="#111" stroke-width="0.6" fill="#222" />
<path d="M404.6,168.4 H415.8" stroke="#ccc" stroke-width="0.5" fill="none" stroke-dasharray="0.8 0.6"/>
<path d="M402.6,171.4 H417.8" stroke="#111" stroke-width="0.9" fill="none" />
<rect x="407.4" y="177.2" width="5.6" height="8.4" rx="2.4" stroke="#222" stroke-width="0.8" fill="#fff" />
<g transform="rotate(-23 389 192.8)"><rect x="385.7" y="189.5" width="30" height="6.6" rx="3.3" stroke="#222" stroke-width="1.0" fill="#fff"/></g>
<circle cx="389" cy="192.8" r="1.4" stroke="#222" stroke-width="0.7" fill="#fff"/>
<circle cx="410.4" cy="183.6" r="1.4" stroke="#222" stroke-width="0.7" fill="#fff"/>
<line x1="395.2" y1="178" x2="395.2" y2="306" stroke="#666" stroke-width="0.5" stroke-dasharray="3 1.2 0.8 1.2"/>
<line x1="409.8" y1="150" x2="409.8" y2="285" stroke="#666" stroke-width="0.5" stroke-dasharray="3 1.2 0.8 1.2"/>
<path d="M376.6,290 V216 C376.6,214.8 377.2,214.4 378,214.4 H382 C382.8,214.4 383.6,214.8 383.6,216 V290 Z" stroke="#222" stroke-width="0.8" fill="#fff" />
<line x1="376.6" y1="218" x2="383.6" y2="218" stroke="#444" stroke-width="0.5" />
<line x1="376.6" y1="221" x2="383.6" y2="221" stroke="#444" stroke-width="0.5" />
<line x1="378.6" y1="222" x2="378.6" y2="289.6" stroke="#777" stroke-width="0.4" />
<rect x="374.6" y="257.6" width="11" height="11.2" rx="1" stroke="#222" stroke-width="0.8" fill="#fff" />
<circle cx="380.1" cy="263" r="1.3" stroke="#222" stroke-width="0.6" fill="#fff"/>
<line x1="374.6" y1="260.2" x2="385.6" y2="260.2" stroke="#555" stroke-width="0.4" />
<line x1="380" y1="291.4" x2="380" y2="298" stroke="#666" stroke-width="0.5" stroke-dasharray="2 1"/>
<circle cx="380" cy="300.5" r="2" stroke="#222" stroke-width="0.8" fill="#fff"/>
<circle cx="410" cy="287.6" r="2" stroke="#222" stroke-width="0.8" fill="#fff"/>
<line x1="384.90" y1="302.69" x2="383.65" y2="294.70" stroke="#2a2a2a" stroke-width="1.3" />
<line x1="387.89" y1="302.26" x2="386.03" y2="292.84" stroke="#2a2a2a" stroke-width="1.3" />
<line x1="390.75" y1="301.52" x2="388.53" y2="291.27" stroke="#2a2a2a" stroke-width="1.3" />
<line x1="393.51" y1="300.58" x2="391.12" y2="289.92" stroke="#2a2a2a" stroke-width="1.3" />
<line x1="396.20" y1="299.44" x2="393.80" y2="288.76" stroke="#2a2a2a" stroke-width="1.3" />
<line x1="398.81" y1="298.12" x2="396.56" y2="287.79" stroke="#2a2a2a" stroke-width="1.3" />
<line x1="401.32" y1="296.59" x2="399.40" y2="287.02" stroke="#2a2a2a" stroke-width="1.3" />
<line x1="403.72" y1="294.78" x2="402.36" y2="286.53" stroke="#2a2a2a" stroke-width="1.3" />
<line x1="405.75" y1="292.10" x2="405.70" y2="286.90" stroke="#2a2a2a" stroke-width="1.3" />
<path d="M382.4,299.5 L383.7,294.7 L386.0,292.8 L388.5,291.3 L391.1,289.9 L393.8,288.8 L396.6,287.8 L399.4,287.0 L402.4,286.5 L405.7,286.9 L407.6,288.7 L405.7,292.1 L403.7,294.8 L401.3,296.6 L398.8,298.1 L396.2,299.4 L393.5,300.6 L390.7,301.5 L387.9,302.3 L384.9,302.7 Z" stroke="#333" stroke-width="0.6" fill="none" stroke-linejoin="round"/>
<path d="M390.9,308.2 C390.9,307.2 391.5,306.8 392.5,306.8 H398.1 C399.1,306.8 399.7,307.2 399.7,308.2 V312.3 H401.6 V344 L400.5,354.8 V400.6 H390 V354.8 L388.7,344 V337 H391 V333 H388.7 V324 H390.9 Z" stroke="#222" stroke-width="0.85" fill="#fff" />
<rect x="391.6" y="307.6" width="7.4" height="3.6" rx="1" stroke="#333" stroke-width="0.6" fill="#fff" />
<line x1="399.7" y1="312.3" x2="399.7" y2="344" stroke="#444" stroke-width="0.5" />
<line x1="393.2" y1="328" x2="393.2" y2="346" stroke="#555" stroke-width="0.5" />
<line x1="393.6" y1="355" x2="393.6" y2="400.4" stroke="#444" stroke-width="0.5" />
<line x1="396.9" y1="355" x2="396.9" y2="400.4" stroke="#444" stroke-width="0.5" />
<path d="M389,344.6 L393.6,355.4 M401.3,344.6 L396.9,355.4" stroke="#333" stroke-width="0.6" fill="none" />
<path d="M389.6,402.6 H401 C401,407 398.2,409.8 395.3,409.8 C392.4,409.8 389.6,407 389.6,402.6 Z" stroke="#222" stroke-width="0.85" fill="#fff" />
<line x1="390.6" y1="404.8" x2="400" y2="404.8" stroke="#444" stroke-width="0.5" />
<path d="M389.4,401.6 H401.2" stroke="#111" stroke-width="2.0" fill="none" />
<path d="M390.8,401.3 H399.8" stroke="#ddd" stroke-width="0.5" fill="none" stroke-dasharray="1 0.8"/>
<path d="M594.4,6 H586.4 V357.6 H594.4" stroke="#7c7c7c" stroke-width="0.85" fill="none" />
<rect x="563.6" y="159" width="20.4" height="51" rx="0" stroke="#555" stroke-width="0.6" fill="#fff" />
<text transform="translate(572.34,184.5) rotate(-90)" font-size="6.5" font-weight="bold" fill="#111" stroke="#111" stroke-width="0.12" text-anchor="middle">CD072 (Ø 6)</text>
<text transform="translate(579.94,184.5) rotate(-90)" font-size="6.5" font-weight="bold" fill="#111" stroke="#111" stroke-width="0.12" text-anchor="middle">CD072V (Ø 12)</text>
<path d="M660,20.4 H653 V101.4 H660" stroke="#7c7c7c" stroke-width="0.85" fill="none" />
<text transform="translate(649.34,60.3) rotate(-90)" font-size="6.5" font-weight="bold" fill="#111" stroke="#111" stroke-width="0.12" text-anchor="middle">PJ121</text>
<path d="M716.6,117.6 H723.6 V172 H716.6" stroke="#7c7c7c" stroke-width="0.85" fill="none" />
<text x="728" y="147.34" font-size="6.5" font-weight="bold" fill="#111" stroke="#111" stroke-width="0.12" text-anchor="start">PE007</text>
<path d="M616.4,277 H610.4 V341.2 H616.4" stroke="#7c7c7c" stroke-width="0.85" fill="none" />
<text transform="translate(599.94,308) rotate(-90)" font-size="6.5" font-weight="bold" fill="#111" stroke="#111" stroke-width="0.12" text-anchor="middle">PJ092 (Ø 6)</text>
<text transform="translate(607.94,307) rotate(-90)" font-size="6.5" font-weight="bold" fill="#111" stroke="#111" stroke-width="0.12" text-anchor="middle">PJ092V (Ø12)</text>
<path d="M725.4,231 H719.4 V291.6 H725.4" stroke="#7c7c7c" stroke-width="0.85" fill="none" />
<text transform="translate(715.94,261.5) rotate(-90)" font-size="6.5" font-weight="bold" fill="#111" stroke="#111" stroke-width="0.12" text-anchor="middle">PJDI074</text>
<path d="M743,231 H737 V279 H743" stroke="#7c7c7c" stroke-width="0.85" fill="none" />
<text transform="translate(734.34,255.3) rotate(-90)" font-size="6.5" font-weight="bold" fill="#111" stroke="#111" stroke-width="0.12" text-anchor="middle">MPDI122</text>
<text x="728.4" y="11.74" font-size="6.6" font-style="italic" fill="#2b2b2b" stroke="#2b2b2b" stroke-width="0.18" text-anchor="start">PDI568</text>
<line x1="695.5" y1="9.4" x2="725" y2="9.4" stroke="#444" stroke-width="0.55" />
<text x="728.4" y="24.34" font-size="6.6" font-style="italic" fill="#2b2b2b" stroke="#2b2b2b" stroke-width="0.18" text-anchor="start">JDI098</text>
<line x1="694" y1="22" x2="725" y2="22" stroke="#444" stroke-width="0.55" />
<text x="728.4" y="73.94" font-size="6.6" font-style="italic" fill="#2b2b2b" stroke="#2b2b2b" stroke-width="0.18" text-anchor="start">P450</text>
<line x1="694.4" y1="71.6" x2="725" y2="71.6" stroke="#444" stroke-width="0.55" />
<text x="728.4" y="113.04" font-size="6.6" font-style="italic" fill="#2b2b2b" stroke="#2b2b2b" stroke-width="0.18" text-anchor="start">J024</text>
<line x1="696.6" y1="110.7" x2="725" y2="110.7" stroke="#444" stroke-width="0.55" />
<text x="728.0" y="184.84" font-size="6.6" font-style="italic" fill="#2b2b2b" stroke="#2b2b2b" stroke-width="0.18" text-anchor="start">M079</text>
<line x1="702" y1="182.4" x2="725.4" y2="182.4" stroke="#444" stroke-width="0.55" />
<text x="728.0" y="195.64" font-size="6.6" font-style="italic" fill="#2b2b2b" stroke="#2b2b2b" stroke-width="0.18" text-anchor="start">M101 x 4</text>
<line x1="698.6" y1="193.2" x2="725.4" y2="193.2" stroke="#444" stroke-width="0.55" />
<text x="624.4" y="226.74" font-size="6.6" font-style="italic" fill="#2b2b2b" stroke="#2b2b2b" stroke-width="0.18" text-anchor="start">P167</text>
<line x1="643" y1="224.4" x2="672" y2="224.4" stroke="#444" stroke-width="0.55" />
<text x="624.4" y="254.54" font-size="6.6" font-style="italic" fill="#2b2b2b" stroke="#2b2b2b" stroke-width="0.18" text-anchor="start">P189</text>
<line x1="643" y1="252.2" x2="674" y2="252.2" stroke="#444" stroke-width="0.55" />
<text x="624.4" y="268.64" font-size="6.6" font-style="italic" fill="#2b2b2b" stroke="#2b2b2b" stroke-width="0.18" text-anchor="start">P168</text>
<line x1="643" y1="266.4" x2="674" y2="266.4" stroke="#444" stroke-width="0.55" />
<text x="624.4" y="333.34" font-size="6.6" font-style="italic" fill="#2b2b2b" stroke="#2b2b2b" stroke-width="0.18" text-anchor="start">P169</text>
<line x1="643" y1="331" x2="659.4" y2="331" stroke="#444" stroke-width="0.55" />
<text x="624.4" y="355.94" font-size="6.6" font-style="italic" fill="#2b2b2b" stroke="#2b2b2b" stroke-width="0.18" text-anchor="start">P153</text>
<line x1="643" y1="353.6" x2="657" y2="353.6" stroke="#444" stroke-width="0.55" />
<text x="728.4" y="336.94" font-size="6.6" font-style="italic" fill="#2b2b2b" stroke="#2b2b2b" stroke-width="0.18" text-anchor="start">P245</text>
<line x1="714" y1="334.6" x2="725" y2="334.6" stroke="#444" stroke-width="0.55" />
<text x="728.4" y="355.94" font-size="6.6" font-style="italic" fill="#2b2b2b" stroke="#2b2b2b" stroke-width="0.18" text-anchor="start">P150</text>
<line x1="717" y1="353.6" x2="725" y2="353.6" stroke="#444" stroke-width="0.55" />
<text x="785.0" y="291.64" font-size="6.6" font-style="italic" fill="#2b2b2b" stroke="#2b2b2b" stroke-width="0.18" text-anchor="start">J051</text>
<line x1="764.2" y1="289.3" x2="782.6" y2="289.3" stroke="#444" stroke-width="0.55" />
<text x="662.5" y="307.34" font-size="6.5" font-weight="bold" fill="#111" stroke="#111" stroke-width="0.12" text-anchor="middle">(Ø 6)</text>
<text x="709.7" y="307.34" font-size="6.5" font-weight="bold" fill="#111" stroke="#111" stroke-width="0.12" text-anchor="middle">(Ø 12)</text>
<line x1="685.4" y1="1" x2="685.4" y2="5" stroke="#666" stroke-width="0.5" stroke-dasharray="3 1.2 0.8 1.2"/>
<line x1="685.4" y1="14" x2="685.4" y2="20.6" stroke="#666" stroke-width="0.5" stroke-dasharray="3 1.2 0.8 1.2"/>
<line x1="685.4" y1="23" x2="685.4" y2="29" stroke="#666" stroke-width="0.5" stroke-dasharray="3 1.2 0.8 1.2"/>
<line x1="685.4" y1="102" x2="685.4" y2="109.4" stroke="#666" stroke-width="0.5" stroke-dasharray="3 1.2 0.8 1.2"/>
<line x1="685.4" y1="112" x2="685.4" y2="117" stroke="#666" stroke-width="0.5" stroke-dasharray="3 1.2 0.8 1.2"/>
<line x1="685.4" y1="172.4" x2="685.4" y2="203" stroke="#666" stroke-width="0.5" stroke-dasharray="3 1.2 0.8 1.2"/>
<line x1="685.4" y1="243" x2="685.4" y2="250" stroke="#666" stroke-width="0.5" stroke-dasharray="3 1.2 0.8 1.2"/>
<line x1="685.4" y1="254" x2="685.4" y2="260.6" stroke="#666" stroke-width="0.5" stroke-dasharray="3 1.2 0.8 1.2"/>
<line x1="685.4" y1="272.6" x2="685.4" y2="278" stroke="#666" stroke-width="0.5" stroke-dasharray="3 1.2 0.8 1.2"/>
<path d="M680,5.7 H691.1 L695.8,11.4 L697.4,12.4 V13 H674.3 V12.4 L675.8,11.4 Z" stroke="#222" stroke-width="0.8" fill="#fff" />
<line x1="675.8" y1="11.5" x2="695.8" y2="11.5" stroke="#333" stroke-width="0.5" />
<line x1="677.1" y1="22" x2="694" y2="22" stroke="#111" stroke-width="1.4" />
<path d="M678.4,29.4 H692.8 V33 H678.4 Z" stroke="#222" stroke-width="0.8" fill="#fff" />
<line x1="678.4" y1="30.6" x2="692.8" y2="30.6" stroke="#333" stroke-width="0.5" />
<path d="M677.6,33 H693.6 V35.4 H677.6 Z" stroke="#222" stroke-width="0.8" fill="#fff" />
<path d="M678.4,35.4 H692.8 V37.4 H678.4 Z" stroke="#222" stroke-width="0.7" fill="#fff" />
<path d="M677.4,37.4 H693.9 V39.8 H677.4 Z" stroke="#222" stroke-width="0.8" fill="#fff" />
<path d="M676.9,39.8 H694.1 V84.3 H676.9 Z" stroke="#222" stroke-width="0.9" fill="#fff" />
<rect x="676.9" y="41.2" width="1.80" height="41.2" fill="#d0d0d0"/>
<rect x="683.1" y="41.2" width="1.50" height="41.2" fill="#d0d0d0"/>
<rect x="686.5" y="41.2" width="1.40" height="41.2" fill="#d0d0d0"/>
<rect x="692.2" y="41.2" width="1.90" height="41.2" fill="#d0d0d0"/>
<line x1="678.7" y1="41.2" x2="678.7" y2="82.6" stroke="#333" stroke-width="0.7" />
<line x1="683.1" y1="41.2" x2="683.1" y2="82.6" stroke="#333" stroke-width="0.7" />
<line x1="684.6" y1="41.2" x2="684.6" y2="82.6" stroke="#333" stroke-width="0.7" />
<line x1="686.5" y1="41.2" x2="686.5" y2="82.6" stroke="#333" stroke-width="0.7" />
<line x1="687.9" y1="41.2" x2="687.9" y2="82.6" stroke="#333" stroke-width="0.7" />
<line x1="692.2" y1="41.2" x2="692.2" y2="82.6" stroke="#333" stroke-width="0.7" />
<path d="M678.7,41.8 C679.6,40.6 682.2,40.6 683.1,41.8 M687.9,41.8 C688.8,40.6 691.3,40.6 692.2,41.8" stroke="#444" stroke-width="0.55" fill="none" />
<path d="M678.7,82 C679.6,83.2 682.2,83.2 683.1,82 M687.9,82 C688.8,83.2 691.3,83.2 692.2,82" stroke="#444" stroke-width="0.55" fill="none" />
<path d="M679.6,84.3 H691.6 V101.3 H679.6 Z" stroke="#222" stroke-width="0.85" fill="#fff" />
<rect x="680" y="89" width="4.6" height="12.1" rx="0" stroke="#666" stroke-width="0.3" fill="#a0a0a0" />
<rect x="686.7" y="89" width="4.5" height="12.1" rx="0" stroke="#666" stroke-width="0.3" fill="#a0a0a0" />
<line x1="680" y1="89.9" x2="684.6" y2="89.9" stroke="#666" stroke-width="0.3" />
<line x1="686.7" y1="89.9" x2="691.2" y2="89.9" stroke="#666" stroke-width="0.3" />
<line x1="680" y1="91.2" x2="684.6" y2="91.2" stroke="#666" stroke-width="0.3" />
<line x1="686.7" y1="91.2" x2="691.2" y2="91.2" stroke="#666" stroke-width="0.3" />
<line x1="680" y1="92.5" x2="684.6" y2="92.5" stroke="#666" stroke-width="0.3" />
<line x1="686.7" y1="92.5" x2="691.2" y2="92.5" stroke="#666" stroke-width="0.3" />
<line x1="680" y1="93.80000000000001" x2="684.6" y2="93.80000000000001" stroke="#666" stroke-width="0.3" />
<line x1="686.7" y1="93.80000000000001" x2="691.2" y2="93.80000000000001" stroke="#666" stroke-width="0.3" />
<line x1="680" y1="95.10000000000001" x2="684.6" y2="95.10000000000001" stroke="#666" stroke-width="0.3" />
<line x1="686.7" y1="95.10000000000001" x2="691.2" y2="95.10000000000001" stroke="#666" stroke-width="0.3" />
<line x1="680" y1="96.4" x2="684.6" y2="96.4" stroke="#666" stroke-width="0.3" />
<line x1="686.7" y1="96.4" x2="691.2" y2="96.4" stroke="#666" stroke-width="0.3" />
<line x1="680" y1="97.7" x2="684.6" y2="97.7" stroke="#666" stroke-width="0.3" />
<line x1="686.7" y1="97.7" x2="691.2" y2="97.7" stroke="#666" stroke-width="0.3" />
<line x1="680" y1="99.0" x2="684.6" y2="99.0" stroke="#666" stroke-width="0.3" />
<line x1="686.7" y1="99.0" x2="691.2" y2="99.0" stroke="#666" stroke-width="0.3" />
<line x1="680" y1="100.30000000000001" x2="684.6" y2="100.30000000000001" stroke="#666" stroke-width="0.3" />
<line x1="686.7" y1="100.30000000000001" x2="691.2" y2="100.30000000000001" stroke="#666" stroke-width="0.3" />
<line x1="684.6" y1="82.6" x2="684.6" y2="101.3" stroke="#333" stroke-width="0.5" />
<line x1="686.6" y1="82.6" x2="686.6" y2="101.3" stroke="#333" stroke-width="0.5" />
<line x1="679.6" y1="88.9" x2="691.6" y2="88.9" stroke="#444" stroke-width="0.5" />
<line x1="674.3" y1="110.7" x2="696.6" y2="110.7" stroke="#111" stroke-width="1.4" />
<path d="M676,117 H695.2 C696,117 696.4,117.4 696.4,118.2 V119.4 H674.7 V118.2 C674.7,117.4 675.2,117 676,117 Z" stroke="#222" stroke-width="1.0" fill="#fff" />
<path d="M675.8,119.4 H695.4 V122.4 H675.8 Z" stroke="#222" stroke-width="0.7" fill="#fff" />
<path d="M673.4,122.4 H697.4 C698,122.4 698.2,122.8 698.2,123.4 V124.6 C698.2,125.2 698,125.6 697.4,125.6 H673.4 C672.8,125.6 672.6,125.2 672.6,124.6 V123.4 C672.6,122.8 672.8,122.4 673.4,122.4 Z" stroke="#222" stroke-width="0.8" fill="#fff" />
<path d="M674.1,125.8 H697.1 V169 C697.1,170.4 696.4,171.1 695,171.1 H676.2 C674.8,171.1 674.1,170.4 674.1,169 Z" stroke="#1a1a1a" stroke-width="1.25" fill="#fff" />
<rect x="675.5" y="126.8" width="7.5" height="42.8" rx="0" stroke="#777" stroke-width="0.3" fill="#a6a6a6" />
<rect x="688" y="126.8" width="8" height="42.8" rx="0" stroke="#777" stroke-width="0.3" fill="#a6a6a6" />
<line x1="675.5" y1="127.6" x2="683" y2="127.6" stroke="#858585" stroke-width="0.25" />
<line x1="688" y1="127.6" x2="696" y2="127.6" stroke="#858585" stroke-width="0.25" />
<line x1="675.5" y1="128.9" x2="683" y2="128.9" stroke="#858585" stroke-width="0.25" />
<line x1="688" y1="128.9" x2="696" y2="128.9" stroke="#858585" stroke-width="0.25" />
<line x1="675.5" y1="130.2" x2="683" y2="130.2" stroke="#858585" stroke-width="0.25" />
<line x1="688" y1="130.2" x2="696" y2="130.2" stroke="#858585" stroke-width="0.25" />
<line x1="675.5" y1="131.5" x2="683" y2="131.5" stroke="#858585" stroke-width="0.25" />
<line x1="688" y1="131.5" x2="696" y2="131.5" stroke="#858585" stroke-width="0.25" />
<line x1="675.5" y1="132.79999999999998" x2="683" y2="132.79999999999998" stroke="#858585" stroke-width="0.25" />
<line x1="688" y1="132.79999999999998" x2="696" y2="132.79999999999998" stroke="#858585" stroke-width="0.25" />
<line x1="675.5" y1="134.1" x2="683" y2="134.1" stroke="#858585" stroke-width="0.25" />
<line x1="688" y1="134.1" x2="696" y2="134.1" stroke="#858585" stroke-width="0.25" />
<line x1="675.5" y1="135.4" x2="683" y2="135.4" stroke="#858585" stroke-width="0.25" />
<line x1="688" y1="135.4" x2="696" y2="135.4" stroke="#858585" stroke-width="0.25" />
<line x1="675.5" y1="136.7" x2="683" y2="136.7" stroke="#858585" stroke-width="0.25" />
<line x1="688" y1="136.7" x2="696" y2="136.7" stroke="#858585" stroke-width="0.25" />
<line x1="675.5" y1="138.0" x2="683" y2="138.0" stroke="#858585" stroke-width="0.25" />
<line x1="688" y1="138.0" x2="696" y2="138.0" stroke="#858585" stroke-width="0.25" />
<line x1="675.5" y1="139.29999999999998" x2="683" y2="139.29999999999998" stroke="#858585" stroke-width="0.25" />
<line x1="688" y1="139.29999999999998" x2="696" y2="139.29999999999998" stroke="#858585" stroke-width="0.25" />
<line x1="675.5" y1="140.6" x2="683" y2="140.6" stroke="#858585" stroke-width="0.25" />
<line x1="688" y1="140.6" x2="696" y2="140.6" stroke="#858585" stroke-width="0.25" />
<line x1="675.5" y1="141.9" x2="683" y2="141.9" stroke="#858585" stroke-width="0.25" />
<line x1="688" y1="141.9" x2="696" y2="141.9" stroke="#858585" stroke-width="0.25" />
<line x1="675.5" y1="143.2" x2="683" y2="143.2" stroke="#858585" stroke-width="0.25" />
<line x1="688" y1="143.2" x2="696" y2="143.2" stroke="#858585" stroke-width="0.25" />
<line x1="675.5" y1="144.5" x2="683" y2="144.5" stroke="#858585" stroke-width="0.25" />
<line x1="688" y1="144.5" x2="696" y2="144.5" stroke="#858585" stroke-width="0.25" />
<line x1="675.5" y1="145.79999999999998" x2="683" y2="145.79999999999998" stroke="#858585" stroke-width="0.25" />
<line x1="688" y1="145.79999999999998" x2="696" y2="145.79999999999998" stroke="#858585" stroke-width="0.25" />
<line x1="675.5" y1="147.1" x2="683" y2="147.1" stroke="#858585" stroke-width="0.25" />
<line x1="688" y1="147.1" x2="696" y2="147.1" stroke="#858585" stroke-width="0.25" />
<line x1="675.5" y1="148.4" x2="683" y2="148.4" stroke="#858585" stroke-width="0.25" />
<line x1="688" y1="148.4" x2="696" y2="148.4" stroke="#858585" stroke-width="0.25" />
<line x1="675.5" y1="149.7" x2="683" y2="149.7" stroke="#858585" stroke-width="0.25" />
<line x1="688" y1="149.7" x2="696" y2="149.7" stroke="#858585" stroke-width="0.25" />
<line x1="675.5" y1="151.0" x2="683" y2="151.0" stroke="#858585" stroke-width="0.25" />
<line x1="688" y1="151.0" x2="696" y2="151.0" stroke="#858585" stroke-width="0.25" />
<line x1="675.5" y1="152.29999999999998" x2="683" y2="152.29999999999998" stroke="#858585" stroke-width="0.25" />
<line x1="688" y1="152.29999999999998" x2="696" y2="152.29999999999998" stroke="#858585" stroke-width="0.25" />
<line x1="675.5" y1="153.6" x2="683" y2="153.6" stroke="#858585" stroke-width="0.25" />
<line x1="688" y1="153.6" x2="696" y2="153.6" stroke="#858585" stroke-width="0.25" />
<line x1="675.5" y1="154.9" x2="683" y2="154.9" stroke="#858585" stroke-width="0.25" />
<line x1="688" y1="154.9" x2="696" y2="154.9" stroke="#858585" stroke-width="0.25" />
<line x1="675.5" y1="156.2" x2="683" y2="156.2" stroke="#858585" stroke-width="0.25" />
<line x1="688" y1="156.2" x2="696" y2="156.2" stroke="#858585" stroke-width="0.25" />
<line x1="675.5" y1="157.5" x2="683" y2="157.5" stroke="#858585" stroke-width="0.25" />
<line x1="688" y1="157.5" x2="696" y2="157.5" stroke="#858585" stroke-width="0.25" />
<line x1="675.5" y1="158.8" x2="683" y2="158.8" stroke="#858585" stroke-width="0.25" />
<line x1="688" y1="158.8" x2="696" y2="158.8" stroke="#858585" stroke-width="0.25" />
<line x1="675.5" y1="160.1" x2="683" y2="160.1" stroke="#858585" stroke-width="0.25" />
<line x1="688" y1="160.1" x2="696" y2="160.1" stroke="#858585" stroke-width="0.25" />
<line x1="675.5" y1="161.4" x2="683" y2="161.4" stroke="#858585" stroke-width="0.25" />
<line x1="688" y1="161.4" x2="696" y2="161.4" stroke="#858585" stroke-width="0.25" />
<line x1="675.5" y1="162.7" x2="683" y2="162.7" stroke="#858585" stroke-width="0.25" />
<line x1="688" y1="162.7" x2="696" y2="162.7" stroke="#858585" stroke-width="0.25" />
<line x1="675.5" y1="164.0" x2="683" y2="164.0" stroke="#858585" stroke-width="0.25" />
<line x1="688" y1="164.0" x2="696" y2="164.0" stroke="#858585" stroke-width="0.25" />
<line x1="675.5" y1="165.3" x2="683" y2="165.3" stroke="#858585" stroke-width="0.25" />
<line x1="688" y1="165.3" x2="696" y2="165.3" stroke="#858585" stroke-width="0.25" />
<line x1="675.5" y1="166.6" x2="683" y2="166.6" stroke="#858585" stroke-width="0.25" />
<line x1="688" y1="166.6" x2="696" y2="166.6" stroke="#858585" stroke-width="0.25" />
<line x1="675.5" y1="167.9" x2="683" y2="167.9" stroke="#858585" stroke-width="0.25" />
<line x1="688" y1="167.9" x2="696" y2="167.9" stroke="#858585" stroke-width="0.25" />
<line x1="675.5" y1="169.2" x2="683" y2="169.2" stroke="#858585" stroke-width="0.25" />
<line x1="688" y1="169.2" x2="696" y2="169.2" stroke="#858585" stroke-width="0.25" />
<line x1="683" y1="126.8" x2="683" y2="169.6" stroke="#333" stroke-width="0.55" />
<line x1="688" y1="126.8" x2="688" y2="169.6" stroke="#333" stroke-width="0.55" />
<line x1="683" y1="130" x2="686" y2="130" stroke="#333" stroke-width="0.45" />
<line x1="683" y1="133.8" x2="684.6" y2="133.8" stroke="#555" stroke-width="0.35" />
<line x1="683" y1="137.8" x2="686" y2="137.8" stroke="#333" stroke-width="0.45" />
<line x1="683" y1="141.60000000000002" x2="684.6" y2="141.60000000000002" stroke="#555" stroke-width="0.35" />
<line x1="683" y1="145.3" x2="686" y2="145.3" stroke="#333" stroke-width="0.45" />
<line x1="683" y1="149.10000000000002" x2="684.6" y2="149.10000000000002" stroke="#555" stroke-width="0.35" />
<line x1="683" y1="152.2" x2="686" y2="152.2" stroke="#333" stroke-width="0.45" />
<line x1="683" y1="156.0" x2="684.6" y2="156.0" stroke="#555" stroke-width="0.35" />
<line x1="669" y1="182.5" x2="700.4" y2="182.5" stroke="#b4b4b4" stroke-width="1.9" />
<line x1="674.5" y1="178.6" x2="674.5" y2="187" stroke="#aaa" stroke-width="0.6" />
<line x1="696" y1="179" x2="696" y2="188.6" stroke="#aaa" stroke-width="0.6" stroke-dasharray="2 0.8"/>
<circle cx="700.6" cy="182.4" r="0.5" stroke="#333" stroke-width="0.2" fill="#333"/>
<line x1="695.9" y1="189" x2="695.9" y2="195.2" stroke="#2a2a2a" stroke-width="1.8" />
<path d="M693.6999999999999,194.6 C693.6999999999999,198.2 698.1,198.2 698.1,194.6 Z" stroke="#333" stroke-width="0.5" fill="#888" />
<path d="M674.4,203.6 H697 C698.6,203.6 699.4,204.6 699.4,206 V240 C699.4,241.6 698.6,242.4 697,242.4 H674.4 C672.8,242.4 672,241.6 672,240 V206 C672,204.6 672.8,203.6 674.4,203.6 Z" stroke="#222" stroke-width="1.0" fill="#fff" />
<line x1="675.4" y1="204.6" x2="675.4" y2="241.6" stroke="#333" stroke-width="0.7" />
<line x1="681.8" y1="204.6" x2="681.8" y2="241.6" stroke="#333" stroke-width="0.7" />
<line x1="689.2" y1="204.6" x2="689.2" y2="241.6" stroke="#333" stroke-width="0.7" />
<line x1="695.9" y1="204.6" x2="695.9" y2="241.6" stroke="#333" stroke-width="0.7" />
<line x1="676.6" y1="205.4" x2="676.6" y2="241" stroke="#999" stroke-width="0.3" />
<line x1="694.7" y1="205.4" x2="694.7" y2="241" stroke="#999" stroke-width="0.3" />
<line x1="672.4" y1="240.6" x2="699" y2="240.6" stroke="#444" stroke-width="0.5" />
<rect x="673.9" y="250.5" width="22.9" height="3.2" rx="0.5" stroke="#222" stroke-width="0.9" fill="#fff" />
<line x1="675" y1="252.1" x2="695.8" y2="252.1" stroke="#777" stroke-width="0.5" />
<path d="M672,261.3 H698.4 L695.2,272.5 H675.2 Z" stroke="#222" stroke-width="1.15" fill="#fff" />
<path d="M673.2,262.6 H697" stroke="#555" stroke-width="0.5" fill="none" />
<path d="M679.8,263 L682.6,271.6 L685,263.6 L687.4,271.6 L690.3,263" stroke="#333" stroke-width="0.7" fill="none" />
<path d="M676.4,263 L678.2,271.4 M693.8,263 L692,271.4" stroke="#666" stroke-width="0.45" fill="none" />
<rect x="681.8" y="278.9" width="7.2" height="6.8" rx="0.9" stroke="#222" stroke-width="0.85" fill="#fff" />
<line x1="682.2" y1="280.6" x2="688.6" y2="280.6" stroke="#444" stroke-width="0.5" />
<rect x="683.6" y="281.5" width="3.7" height="3.1" rx="0" stroke="#222" stroke-width="0.4" fill="#3a3a3a" />
<line x1="684.6" y1="282.2" x2="684.6" y2="284" stroke="#ddd" stroke-width="0.4" />
<line x1="686.2" y1="282.2" x2="686.2" y2="284" stroke="#ddd" stroke-width="0.4" />
<rect x="682.9" y="285.7" width="5" height="10.7" rx="0" stroke="#111" stroke-width="0.5" fill="#222" />
<line x1="683.2" y1="287.2" x2="687.6" y2="287.2" stroke="#cfcfcf" stroke-width="0.4" />
<line x1="683.2" y1="288.75" x2="687.6" y2="288.75" stroke="#cfcfcf" stroke-width="0.4" />
<line x1="683.2" y1="290.3" x2="687.6" y2="290.3" stroke="#cfcfcf" stroke-width="0.4" />
<line x1="683.2" y1="291.84999999999997" x2="687.6" y2="291.84999999999997" stroke="#cfcfcf" stroke-width="0.4" />
<line x1="683.2" y1="293.4" x2="687.6" y2="293.4" stroke="#cfcfcf" stroke-width="0.4" />
<line x1="683.2" y1="294.95" x2="687.6" y2="294.95" stroke="#cfcfcf" stroke-width="0.4" />
<rect x="683.5" y="296.3" width="3.9" height="1.4" rx="0" stroke="#222" stroke-width="0.5" fill="#fff" />
<line x1="679.5" y1="298.6" x2="691.3" y2="298.6" stroke="#111" stroke-width="1.9" />
<line x1="680.4" y1="298.6" x2="690.6" y2="298.6" stroke="#aaa" stroke-width="0.6" stroke-dasharray="0.6 1"/>
<path d="M683.9,299.6 L685.45,301.7 L687,299.6 Z" stroke="#222" stroke-width="0.5" fill="#333" />
<line x1="685.4" y1="302" x2="685.4" y2="311.4" stroke="#555" stroke-width="0.5" stroke-dasharray="2 1"/>
<line x1="662.8" y1="311.4" x2="708.4" y2="311.4" stroke="#555" stroke-width="0.5" stroke-dasharray="3 1.2 0.8 1.2"/>
<line x1="662.8" y1="311.4" x2="662.8" y2="317" stroke="#555" stroke-width="0.5" stroke-dasharray="2 1"/>
<line x1="708.4" y1="311.4" x2="708.4" y2="317" stroke="#555" stroke-width="0.5" stroke-dasharray="2 1"/>
<path d="M754.9,232.7 H760.6 C761.3,232.7 761.6,233 761.6,233.7 V238 C761.6,238.6 761.3,239 760.6,239 H760 L759.4,242.2 H756.1 L755.5,239 H754.9 C754.2,239 753.9,238.6 753.9,238 V233.7 C753.9,233 754.2,232.7 754.9,232.7 Z" stroke="#222" stroke-width="0.8" fill="#fff" />
<rect x="755.5" y="234" width="4.5" height="3.6" rx="0" stroke="#222" stroke-width="0.5" fill="#666" />
<line x1="756" y1="235.2" x2="759.6" y2="235.2" stroke="#ddd" stroke-width="0.4" />
<line x1="756" y1="236.6" x2="759.6" y2="236.6" stroke="#ddd" stroke-width="0.4" />
<rect x="754.8" y="245.6" width="5.9" height="12" rx="0" stroke="#222" stroke-width="0.5" fill="#fff" />
<line x1="754.8" y1="247.0" x2="760.7" y2="246.3" stroke="#222" stroke-width="1.0" />
<line x1="754.8" y1="248.45" x2="760.7" y2="247.75" stroke="#222" stroke-width="1.0" />
<line x1="754.8" y1="249.9" x2="760.7" y2="249.20000000000002" stroke="#222" stroke-width="1.0" />
<line x1="754.8" y1="251.35" x2="760.7" y2="250.65" stroke="#222" stroke-width="1.0" />
<line x1="754.8" y1="252.8" x2="760.7" y2="252.10000000000002" stroke="#222" stroke-width="1.0" />
<line x1="754.8" y1="254.25" x2="760.7" y2="253.55" stroke="#222" stroke-width="1.0" />
<line x1="754.8" y1="255.7" x2="760.7" y2="255.0" stroke="#222" stroke-width="1.0" />
<line x1="754.8" y1="257.15" x2="760.7" y2="256.45" stroke="#222" stroke-width="1.0" />
<rect x="756.6" y="260.2" width="2.3" height="12.4" rx="1" stroke="#222" stroke-width="0.55" fill="#e8e8e8" />
<path d="M753.9,273.4 C753.9,272.4 754.5,272 755.5,272 H760 C761,272 761.6,272.4 761.6,273.4 V274.6 L757.75,279.6 L753.9,274.6 Z" stroke="#222" stroke-width="0.75" fill="#fff" />
<path d="M754.2,274.4 H761.3 M757.75,274.6 V279.2" stroke="#555" stroke-width="0.4" fill="none" />
<line x1="757.75" y1="281" x2="757.75" y2="287.4" stroke="#666" stroke-width="0.5" stroke-dasharray="2 1"/>
<line x1="752.2" y1="289.3" x2="764.2" y2="289.3" stroke="#111" stroke-width="1.6" />
<line x1="754" y1="289.3" x2="762.6" y2="289.3" stroke="#ccc" stroke-width="0.5" stroke-dasharray="0.7 0.9"/>
<path d="M655.5,317.9 H670.8 C671.8,317.9 672.0,318.5 672.0,319.5 V325.2 C672.0,326.2 671.6,326.59999999999997 670.8,326.59999999999997 H655.5 C654.6999999999999,326.59999999999997 654.3,326.2 654.3,325.2 V319.5 C654.3,318.5 654.5,317.9 655.5,317.9 Z" stroke="#222" stroke-width="0.95" fill="#fff" />
<line x1="656.9" y1="318.5" x2="656.9" y2="325.99999999999994" stroke="#333" stroke-width="0.6" />
<line x1="660.7" y1="318.5" x2="660.7" y2="325.99999999999994" stroke="#333" stroke-width="0.6" />
<line x1="666" y1="318.5" x2="666" y2="325.99999999999994" stroke="#333" stroke-width="0.6" />
<line x1="669.4" y1="318.5" x2="669.4" y2="325.99999999999994" stroke="#333" stroke-width="0.6" />
<line x1="654.9" y1="325.2" x2="671.4" y2="325.2" stroke="#666" stroke-width="0.4" />
<rect x="659.2" y="326.6" width="7.3" height="5.8" rx="0" stroke="#222" stroke-width="0.6" fill="#777" />
<line x1="659.2" y1="327.8" x2="666.5" y2="327.8" stroke="#222" stroke-width="0.5" />
<line x1="659.2" y1="329.1" x2="666.5" y2="329.1" stroke="#222" stroke-width="0.5" />
<line x1="659.2" y1="330.40000000000003" x2="666.5" y2="330.40000000000003" stroke="#222" stroke-width="0.5" />
<line x1="659.2" y1="331.7" x2="666.5" y2="331.7" stroke="#222" stroke-width="0.5" />
<path d="M660.6,332.4 H665.4 L664.9,337.7 H661.1 Z" stroke="#222" stroke-width="0.8" fill="#fff" />
<line x1="660.9" y1="334.8" x2="665.2" y2="334.8" stroke="#444" stroke-width="0.5" />
<line x1="663.1" y1="339.8" x2="663.1" y2="346.4" stroke="#666" stroke-width="0.5" stroke-dasharray="2 1"/>
<path d="M701.2,317.5 H716.3 C717.3,317.5 717.5,318.1 717.5,319.1 V324.8 C717.5,325.8 717.1,326.2 716.3,326.2 H701.2 C700.4,326.2 700,325.8 700,324.8 V319.1 C700,318.1 700.2,317.5 701.2,317.5 Z" stroke="#222" stroke-width="0.95" fill="#fff" />
<line x1="702.6" y1="318.1" x2="702.6" y2="325.59999999999997" stroke="#333" stroke-width="0.6" />
<line x1="706.6" y1="318.1" x2="706.6" y2="325.59999999999997" stroke="#333" stroke-width="0.6" />
<line x1="711.2" y1="318.1" x2="711.2" y2="325.59999999999997" stroke="#333" stroke-width="0.6" />
<line x1="714.8" y1="318.1" x2="714.8" y2="325.59999999999997" stroke="#333" stroke-width="0.6" />
<line x1="700.6" y1="324.8" x2="716.9" y2="324.8" stroke="#666" stroke-width="0.4" />
<rect x="702.6" y="326.2" width="11.3" height="7.3" rx="0" stroke="#222" stroke-width="0.7" fill="#a8a8a8" />
<line x1="702.6" y1="327.8" x2="713.9" y2="327.8" stroke="#666" stroke-width="0.4" />
<line x1="702.6" y1="329.2" x2="713.9" y2="329.2" stroke="#666" stroke-width="0.4" />
<line x1="702.6" y1="330.6" x2="713.9" y2="330.6" stroke="#666" stroke-width="0.4" />
<line x1="702.6" y1="332.0" x2="713.9" y2="332.0" stroke="#666" stroke-width="0.4" />
<path d="M703.8,333.5 H713 L711.8,342.3 H705 Z" stroke="#222" stroke-width="0.85" fill="#fff" />
<line x1="704.2" y1="337.3" x2="712.4" y2="337.3" stroke="#444" stroke-width="0.45" />
<line x1="708.4" y1="343.4" x2="708.4" y2="346.8" stroke="#666" stroke-width="0.5" stroke-dasharray="2 1"/>
<path d="M657.9,348.6 H669.8000000000001 C670.6,348.6 670.6,349.20000000000005 670.6,349.8 L670.1,356.40000000000003 C669.8000000000001,358.2 668.8000000000001,358.8 667.6,358.8 H660.1 C658.9,358.8 657.9,358.2 657.6,356.40000000000003 L657.1,349.8 C657.1,349.20000000000005 657.1,348.6 657.9,348.6 Z" stroke="#333" stroke-width="0.8" fill="#ededed" />
<line x1="657.5" y1="348.8" x2="670.2" y2="348.8" stroke="#222" stroke-width="0.9" />
<line x1="659.35" y1="349.40000000000003" x2="659.35" y2="357.6" stroke="#555" stroke-width="0.6" />
<line x1="661.60" y1="349.40000000000003" x2="661.60" y2="357.6" stroke="#555" stroke-width="0.6" />
<line x1="663.85" y1="349.40000000000003" x2="663.85" y2="357.6" stroke="#555" stroke-width="0.6" />
<line x1="666.10" y1="349.40000000000003" x2="666.10" y2="357.6" stroke="#555" stroke-width="0.6" />
<line x1="668.35" y1="349.40000000000003" x2="668.35" y2="357.6" stroke="#555" stroke-width="0.6" />
<path d="M700.6999999999999,347.4 H717.1 L717.5,348.0 L717.2,358.7 L716.5,359.7 H701.3 L700.5999999999999,358.7 L700.3,348.0 Z" stroke="#333" stroke-width="0.85" fill="#fff" />
<line x1="700.6999999999999" y1="347.59999999999997" x2="717.1" y2="347.59999999999997" stroke="#333" stroke-width="0.7" />
<path d="M701.46,348.2 H703.26 L702.56,358.3 H702.16 Z" stroke="#666" stroke-width="0.45" fill="#c6c6c6" />
<path d="M708.00,348.2 H709.80 L709.10,358.3 H708.70 Z" stroke="#666" stroke-width="0.45" fill="#c6c6c6" />
<path d="M714.54,348.2 H716.34 L715.64,358.3 H715.24 Z" stroke="#666" stroke-width="0.45" fill="#c6c6c6" />
<line x1="705.46" y1="348.2" x2="705.46" y2="358.7" stroke="#888" stroke-width="0.4" />
<line x1="712.34" y1="348.2" x2="712.34" y2="358.7" stroke="#888" stroke-width="0.4" />
<line x1="700.9" y1="358.2" x2="716.9" y2="358.2" stroke="#888" stroke-width="0.4" />
<text x="827" y="12.34" font-size="6.5" font-weight="bold" fill="#111" stroke="#111" stroke-width="0.12" text-anchor="middle">(Ø 6)</text>
<text x="947.3" y="12.34" font-size="6.5" font-weight="bold" fill="#111" stroke="#111" stroke-width="0.12" text-anchor="middle">(Ø 12)</text>
<path d="M814.3,20 H807.3 V225.7 H814.3" stroke="#7c7c7c" stroke-width="0.85" fill="none" />
<rect x="796" y="114" width="9.2" height="28.1" rx="0" stroke="#555" stroke-width="0.6" fill="#fff" />
<text transform="translate(802.74,128.4) rotate(-90)" font-size="6.5" font-weight="bold" fill="#111" stroke="#111" stroke-width="0.12" text-anchor="middle">MP004</text>
<path d="M840.5,187 H846.5 V225.7 H840.5" stroke="#7c7c7c" stroke-width="0.85" fill="none" />
<rect x="848.4" y="190.6" width="9.1" height="31.4" rx="0" stroke="#555" stroke-width="0.6" fill="#fff" />
<text transform="translate(855.34,206.4) rotate(-90)" font-size="6.5" font-weight="bold" fill="#111" stroke="#111" stroke-width="0.12" text-anchor="middle">MPDI206</text>
<path d="M929.7,18.5 H922.7 V271 H929.7" stroke="#7c7c7c" stroke-width="0.85" fill="none" />
<rect x="911.2" y="145.9" width="9.3" height="26" rx="0" stroke="#555" stroke-width="0.6" fill="#fff" />
<text transform="translate(918.04,159.2) rotate(-90)" font-size="6.5" font-weight="bold" fill="#111" stroke="#111" stroke-width="0.12" text-anchor="middle">MP104</text>
<path d="M969,204.4 H975 V271 H969" stroke="#7c7c7c" stroke-width="0.85" fill="none" />
<text transform="translate(982.74,238.5) rotate(-90)" font-size="6.5" font-weight="bold" fill="#111" stroke="#111" stroke-width="0.12" text-anchor="middle">MPDI211</text>
<text x="854.0" y="25.84" font-size="6.6" font-style="italic" fill="#2b2b2b" stroke="#2b2b2b" stroke-width="0.18" text-anchor="start">P153</text>
<line x1="833.7" y1="23.5" x2="850" y2="23.5" stroke="#444" stroke-width="0.55" />
<text x="854.0" y="60.74" font-size="6.6" font-style="italic" fill="#2b2b2b" stroke="#2b2b2b" stroke-width="0.18" text-anchor="start">PDI042</text>
<line x1="830.3" y1="58.4" x2="850" y2="58.4" stroke="#444" stroke-width="0.55" />
<text x="970.8" y="26.74" font-size="6.6" font-style="italic" fill="#2b2b2b" stroke="#2b2b2b" stroke-width="0.18" text-anchor="start">P150</text>
<line x1="957" y1="24.4" x2="967.6" y2="24.4" stroke="#444" stroke-width="0.55" />
<text x="971.0" y="137.74" font-size="6.6" font-style="italic" fill="#2b2b2b" stroke="#2b2b2b" stroke-width="0.18" text-anchor="start">8P045D</text>
<line x1="952.6" y1="135.4" x2="967.6" y2="135.4" stroke="#444" stroke-width="0.55" />
<path d="M821.4,19.5 H832.8000000000001 C833.6,19.5 833.6,20.1 833.6,20.7 L833.1,27.3 C832.8000000000001,29.099999999999998 831.8000000000001,29.7 830.6,29.7 H823.6 C822.4,29.7 821.4,29.099999999999998 821.1,27.3 L820.6,20.7 C820.6,20.1 820.6,19.5 821.4,19.5 Z" stroke="#333" stroke-width="0.8" fill="#ededed" />
<line x1="821.0" y1="19.7" x2="833.2" y2="19.7" stroke="#222" stroke-width="0.9" />
<line x1="822.77" y1="20.3" x2="822.77" y2="28.5" stroke="#555" stroke-width="0.6" />
<line x1="824.93" y1="20.3" x2="824.93" y2="28.5" stroke="#555" stroke-width="0.6" />
<line x1="827.10" y1="20.3" x2="827.10" y2="28.5" stroke="#555" stroke-width="0.6" />
<line x1="829.27" y1="20.3" x2="829.27" y2="28.5" stroke="#555" stroke-width="0.6" />
<line x1="831.43" y1="20.3" x2="831.43" y2="28.5" stroke="#555" stroke-width="0.6" />
<line x1="827.4" y1="32.5" x2="827.4" y2="39" stroke="#666" stroke-width="0.5" stroke-dasharray="2 1"/>
<rect x="824.9" y="41" width="5.3" height="8.4" rx="0" stroke="#6c6c6c" stroke-width="0.7" fill="#fff" />
<ellipse cx="827.6" cy="49.8" rx="2.4" ry="0.7" fill="#333"/>
<path d="M824.9,89.6 V180 H830.2 V89.6" stroke="#6c6c6c" stroke-width="0.7" fill="none" />
<circle cx="838.3" cy="89.6" r="13.4" stroke="#6c6c6c" stroke-width="0.7" fill="#fff"/>
<circle cx="838.2" cy="89.6" r="8" stroke="#6c6c6c" stroke-width="0.7" fill="#fff"/>
<rect x="824.9" y="51.7" width="5.300000000000068" height="37.89999999999999" fill="#fff"/>
<path d="M824.9,51.7 V89.6 M830.2,51.7 V89.6" stroke="#6c6c6c" stroke-width="0.7" fill="none" />
<ellipse cx="827.5" cy="51.8" rx="2.65" ry="0.8" stroke="#6c6c6c" stroke-width="0.5" fill="#fff"/>
<path d="M825.6,194.4 V188 C825.6,186.8 826.2,186.4 827.1,186.4 C828,186.4 828.6,186.8 828.6,188 V194.4" stroke="#222" stroke-width="0.7" fill="#fff" />
<line x1="825.6" y1="189.4" x2="828.6" y2="189.4" stroke="#333" stroke-width="0.4" />
<line x1="825.6" y1="191.4" x2="828.6" y2="191.4" stroke="#333" stroke-width="0.4" />
<path d="M825.6,194.4 C825.4,197 821.2,198.6 821,201.4 V224.3 H833.4 V201.4 C833.2,198.6 828.8,197 828.6,194.4 Z" stroke="#222" stroke-width="0.8" fill="#fff" />
<rect x="821" y="202.4" width="12.4" height="13.4" rx="0" stroke="#222" stroke-width="0.5" fill="#fff" />
<rect x="821.2" y="202.6" width="1.3" height="13" fill="#777"/><rect x="831.9" y="202.6" width="1.3" height="13" fill="#777"/>
<rect x="822.7" y="203.4" width="3.3" height="2.799999999999983" rx="0" stroke="#222" stroke-width="0.55" fill="#fff" />
<rect x="828.1" y="203.4" width="3.5" height="2.799999999999983" rx="0" stroke="#222" stroke-width="0.55" fill="#fff" />
<rect x="822.7" y="207.7" width="3.3" height="2.8000000000000114" rx="0" stroke="#222" stroke-width="0.55" fill="#fff" />
<rect x="828.1" y="207.7" width="3.5" height="2.8000000000000114" rx="0" stroke="#222" stroke-width="0.55" fill="#fff" />
<rect x="822.7" y="212.2" width="3.3" height="2.8000000000000114" rx="0" stroke="#222" stroke-width="0.55" fill="#fff" />
<rect x="828.1" y="212.2" width="3.5" height="2.8000000000000114" rx="0" stroke="#222" stroke-width="0.55" fill="#fff" />
<line x1="821" y1="206.95" x2="833.4" y2="206.95" stroke="#444" stroke-width="0.9" />
<line x1="821" y1="211.35" x2="833.4" y2="211.35" stroke="#444" stroke-width="0.9" />
<line x1="827.05" y1="202.6" x2="827.05" y2="215.6" stroke="#111" stroke-width="1.3" />
<line x1="821" y1="217.4" x2="833.4" y2="217.4" stroke="#3a3a3a" stroke-width="0.5" />
<line x1="821" y1="218.9" x2="833.4" y2="218.9" stroke="#3a3a3a" stroke-width="0.5" />
<line x1="821" y1="220.4" x2="833.4" y2="220.4" stroke="#3a3a3a" stroke-width="0.5" />
<line x1="821" y1="221.9" x2="833.4" y2="221.9" stroke="#3a3a3a" stroke-width="0.5" />
<line x1="821" y1="223.4" x2="833.4" y2="223.4" stroke="#3a3a3a" stroke-width="0.5" />
<line x1="821" y1="216.2" x2="833.4" y2="216.2" stroke="#222" stroke-width="0.7" />
<line x1="827.05" y1="217.3" x2="827.05" y2="222.9" stroke="#111" stroke-width="1.5" />
<line x1="823.4" y1="216.2" x2="823.4" y2="224.3" stroke="#333" stroke-width="0.5" />
<line x1="830.8" y1="216.2" x2="830.8" y2="224.3" stroke="#333" stroke-width="0.5" />
<path d="M937.4,19 H956.2 L956.6,19.6 L956.3000000000001,31.6 L955.6,32.6 H938 L937.3,31.6 L937,19.6 Z" stroke="#333" stroke-width="0.85" fill="#fff" />
<line x1="937.4" y1="19.2" x2="956.2" y2="19.2" stroke="#333" stroke-width="0.7" />
<path d="M938.45,19.8 H940.25 L939.55,31.200000000000003 H939.15 Z" stroke="#666" stroke-width="0.45" fill="#c6c6c6" />
<path d="M945.90,19.8 H947.70 L947.00,31.200000000000003 H946.60 Z" stroke="#666" stroke-width="0.45" fill="#c6c6c6" />
<path d="M953.35,19.8 H955.15 L954.45,31.200000000000003 H954.05 Z" stroke="#666" stroke-width="0.45" fill="#c6c6c6" />
<line x1="942.88" y1="19.8" x2="942.88" y2="31.6" stroke="#888" stroke-width="0.4" />
<line x1="950.72" y1="19.8" x2="950.72" y2="31.6" stroke="#888" stroke-width="0.4" />
<line x1="937.6" y1="31.1" x2="956.0" y2="31.1" stroke="#888" stroke-width="0.4" />
<line x1="946.4" y1="35.7" x2="946.4" y2="42" stroke="#666" stroke-width="0.5" stroke-dasharray="2 1"/>
<rect x="941.1" y="43.8" width="11.8" height="11.2" rx="0" stroke="#6c6c6c" stroke-width="0.7" fill="#fff" />
<ellipse cx="944" cy="54.2" rx="1.8" ry="0.9" stroke="#333" stroke-width="0.5" fill="#fff"/>
<path d="M941.1,88.6 V192.6 H952.3 V88.6" stroke="#6c6c6c" stroke-width="0.7" fill="none" />
<circle cx="965.9" cy="88.6" r="24.8" stroke="#6c6c6c" stroke-width="0.7" fill="#fff"/>
<circle cx="965.9" cy="88.6" r="13.6" stroke="#6c6c6c" stroke-width="0.7" fill="#fff"/>
<rect x="941.1" y="58" width="11.199999999999932" height="30.599999999999994" fill="#fff"/>
<path d="M941.1,58 V88.6 M952.3,58 V88.6" stroke="#6c6c6c" stroke-width="0.7" fill="none" />
<ellipse cx="946.7" cy="58.1" rx="5.6" ry="1" stroke="#6c6c6c" stroke-width="0.5" fill="#fff"/>
<ellipse cx="950.3" cy="58.2" rx="1.8" ry="0.9" stroke="#333" stroke-width="0.5" fill="#fff"/>
<line x1="947" y1="196" x2="947" y2="201.4" stroke="#666" stroke-width="0.5" stroke-dasharray="2 1"/>
<path d="M942.2,213.6 V204.6 C942.2,203.4 942.8,203 943.8,203 H950.6 C951.6,203 952.2,203.4 952.2,204.6 V213.6" stroke="#222" stroke-width="0.8" fill="#fff" />
<line x1="942.2" y1="206" x2="952.2" y2="206" stroke="#333" stroke-width="0.5" />
<line x1="942.2" y1="209.6" x2="952.2" y2="209.6" stroke="#333" stroke-width="0.5" />
<path d="M942.2,213.4 H952.2 C955,214 956.4,215.4 956.6,218 V227.8 H937.3 V218 C937.5,215.4 939,214 942.2,213.4 Z" stroke="#222" stroke-width="0.9" fill="#fff" />
<path d="M940.4,227.4 C940.4,220 941.4,217 942.0,214.6" stroke="#333" stroke-width="0.55" fill="none" />
<path d="M944.4,227.4 C944.4,220 944.8,217 945.04,214.6" stroke="#333" stroke-width="0.55" fill="none" />
<path d="M949.6,227.4 C949.6,220 949.2,217 948.96,214.6" stroke="#333" stroke-width="0.55" fill="none" />
<path d="M953.6,227.4 C953.6,220 952.6,217 952.0,214.6" stroke="#333" stroke-width="0.55" fill="none" />
<path d="M936.2,231 C937,229 938.4,228 940,228 H954 C955.6,228 956.8,229 957.5,231 V269.4 H936.2 Z" stroke="#222" stroke-width="0.9" fill="#fff" />
<rect x="936.5" y="231.4" width="2.6" height="22.6" fill="#777"/><rect x="954.8" y="231.4" width="2.5" height="22.6" fill="#777"/>
<line x1="936.2" y1="231.4" x2="957.5" y2="231.4" stroke="#222" stroke-width="0.7" />
<rect x="939.4" y="233.1" width="6.2" height="5.200000000000017" rx="0" stroke="#222" stroke-width="0.6" fill="#fff" />
<line x1="942.5" y1="233.1" x2="942.5" y2="238.3" stroke="#444" stroke-width="0.55" />
<rect x="948.5" y="233.1" width="6.2" height="5.200000000000017" rx="0" stroke="#222" stroke-width="0.6" fill="#fff" />
<line x1="951.6" y1="233.1" x2="951.6" y2="238.3" stroke="#444" stroke-width="0.55" />
<rect x="939.4" y="240.3" width="6.2" height="5.899999999999977" rx="0" stroke="#222" stroke-width="0.6" fill="#fff" />
<line x1="942.5" y1="240.3" x2="942.5" y2="246.2" stroke="#444" stroke-width="0.55" />
<rect x="948.5" y="240.3" width="6.2" height="5.899999999999977" rx="0" stroke="#222" stroke-width="0.6" fill="#fff" />
<line x1="951.6" y1="240.3" x2="951.6" y2="246.2" stroke="#444" stroke-width="0.55" />
<rect x="939.4" y="248.2" width="6.2" height="4.400000000000006" rx="0" stroke="#222" stroke-width="0.6" fill="#fff" />
<line x1="942.5" y1="248.2" x2="942.5" y2="252.6" stroke="#444" stroke-width="0.55" />
<rect x="948.5" y="248.2" width="6.2" height="4.400000000000006" rx="0" stroke="#222" stroke-width="0.6" fill="#fff" />
<line x1="951.6" y1="248.2" x2="951.6" y2="252.6" stroke="#444" stroke-width="0.55" />
<line x1="936.4" y1="239.3" x2="957.3" y2="239.3" stroke="#444" stroke-width="1.0" />
<line x1="936.4" y1="247.2" x2="957.3" y2="247.2" stroke="#444" stroke-width="1.0" />
<line x1="947" y1="232" x2="947" y2="253.4" stroke="#111" stroke-width="1.5" />
<line x1="947" y1="232" x2="947" y2="253.4" stroke="#bbb" stroke-width="0.5" stroke-dasharray="0.6 0.9"/>
<line x1="936.2" y1="254.2" x2="957.5" y2="254.2" stroke="#222" stroke-width="0.8" />
<line x1="936.2" y1="255.8" x2="957.5" y2="255.8" stroke="#3a3a3a" stroke-width="0.5" />
<line x1="936.2" y1="257.40000000000003" x2="957.5" y2="257.40000000000003" stroke="#3a3a3a" stroke-width="0.5" />
<line x1="936.2" y1="259.0" x2="957.5" y2="259.0" stroke="#3a3a3a" stroke-width="0.5" />
<line x1="936.2" y1="260.6" x2="957.5" y2="260.6" stroke="#3a3a3a" stroke-width="0.5" />
<line x1="936.2" y1="262.2" x2="957.5" y2="262.2" stroke="#3a3a3a" stroke-width="0.5" />
<line x1="936.2" y1="263.8" x2="957.5" y2="263.8" stroke="#3a3a3a" stroke-width="0.5" />
<line x1="936.2" y1="265.40000000000003" x2="957.5" y2="265.40000000000003" stroke="#3a3a3a" stroke-width="0.5" />
<line x1="936.2" y1="267.0" x2="957.5" y2="267.0" stroke="#3a3a3a" stroke-width="0.5" />
<line x1="936.2" y1="268.6" x2="957.5" y2="268.6" stroke="#3a3a3a" stroke-width="0.5" />
<line x1="947" y1="256.6" x2="947" y2="267" stroke="#111" stroke-width="1.7" />
<line x1="947" y1="256.6" x2="947" y2="267" stroke="#bbb" stroke-width="0.5" stroke-dasharray="0.6 0.9"/>
<line x1="939.4" y1="254.2" x2="939.4" y2="269.4" stroke="#222" stroke-width="0.6" />
<line x1="954.6" y1="254.2" x2="954.6" y2="269.4" stroke="#222" stroke-width="0.6" />
<line x1="943" y1="254.2" x2="943" y2="269.4" stroke="#444" stroke-width="0.4" />
<line x1="951" y1="254.2" x2="951" y2="269.4" stroke="#444" stroke-width="0.4" />
</svg>
</body></html>
